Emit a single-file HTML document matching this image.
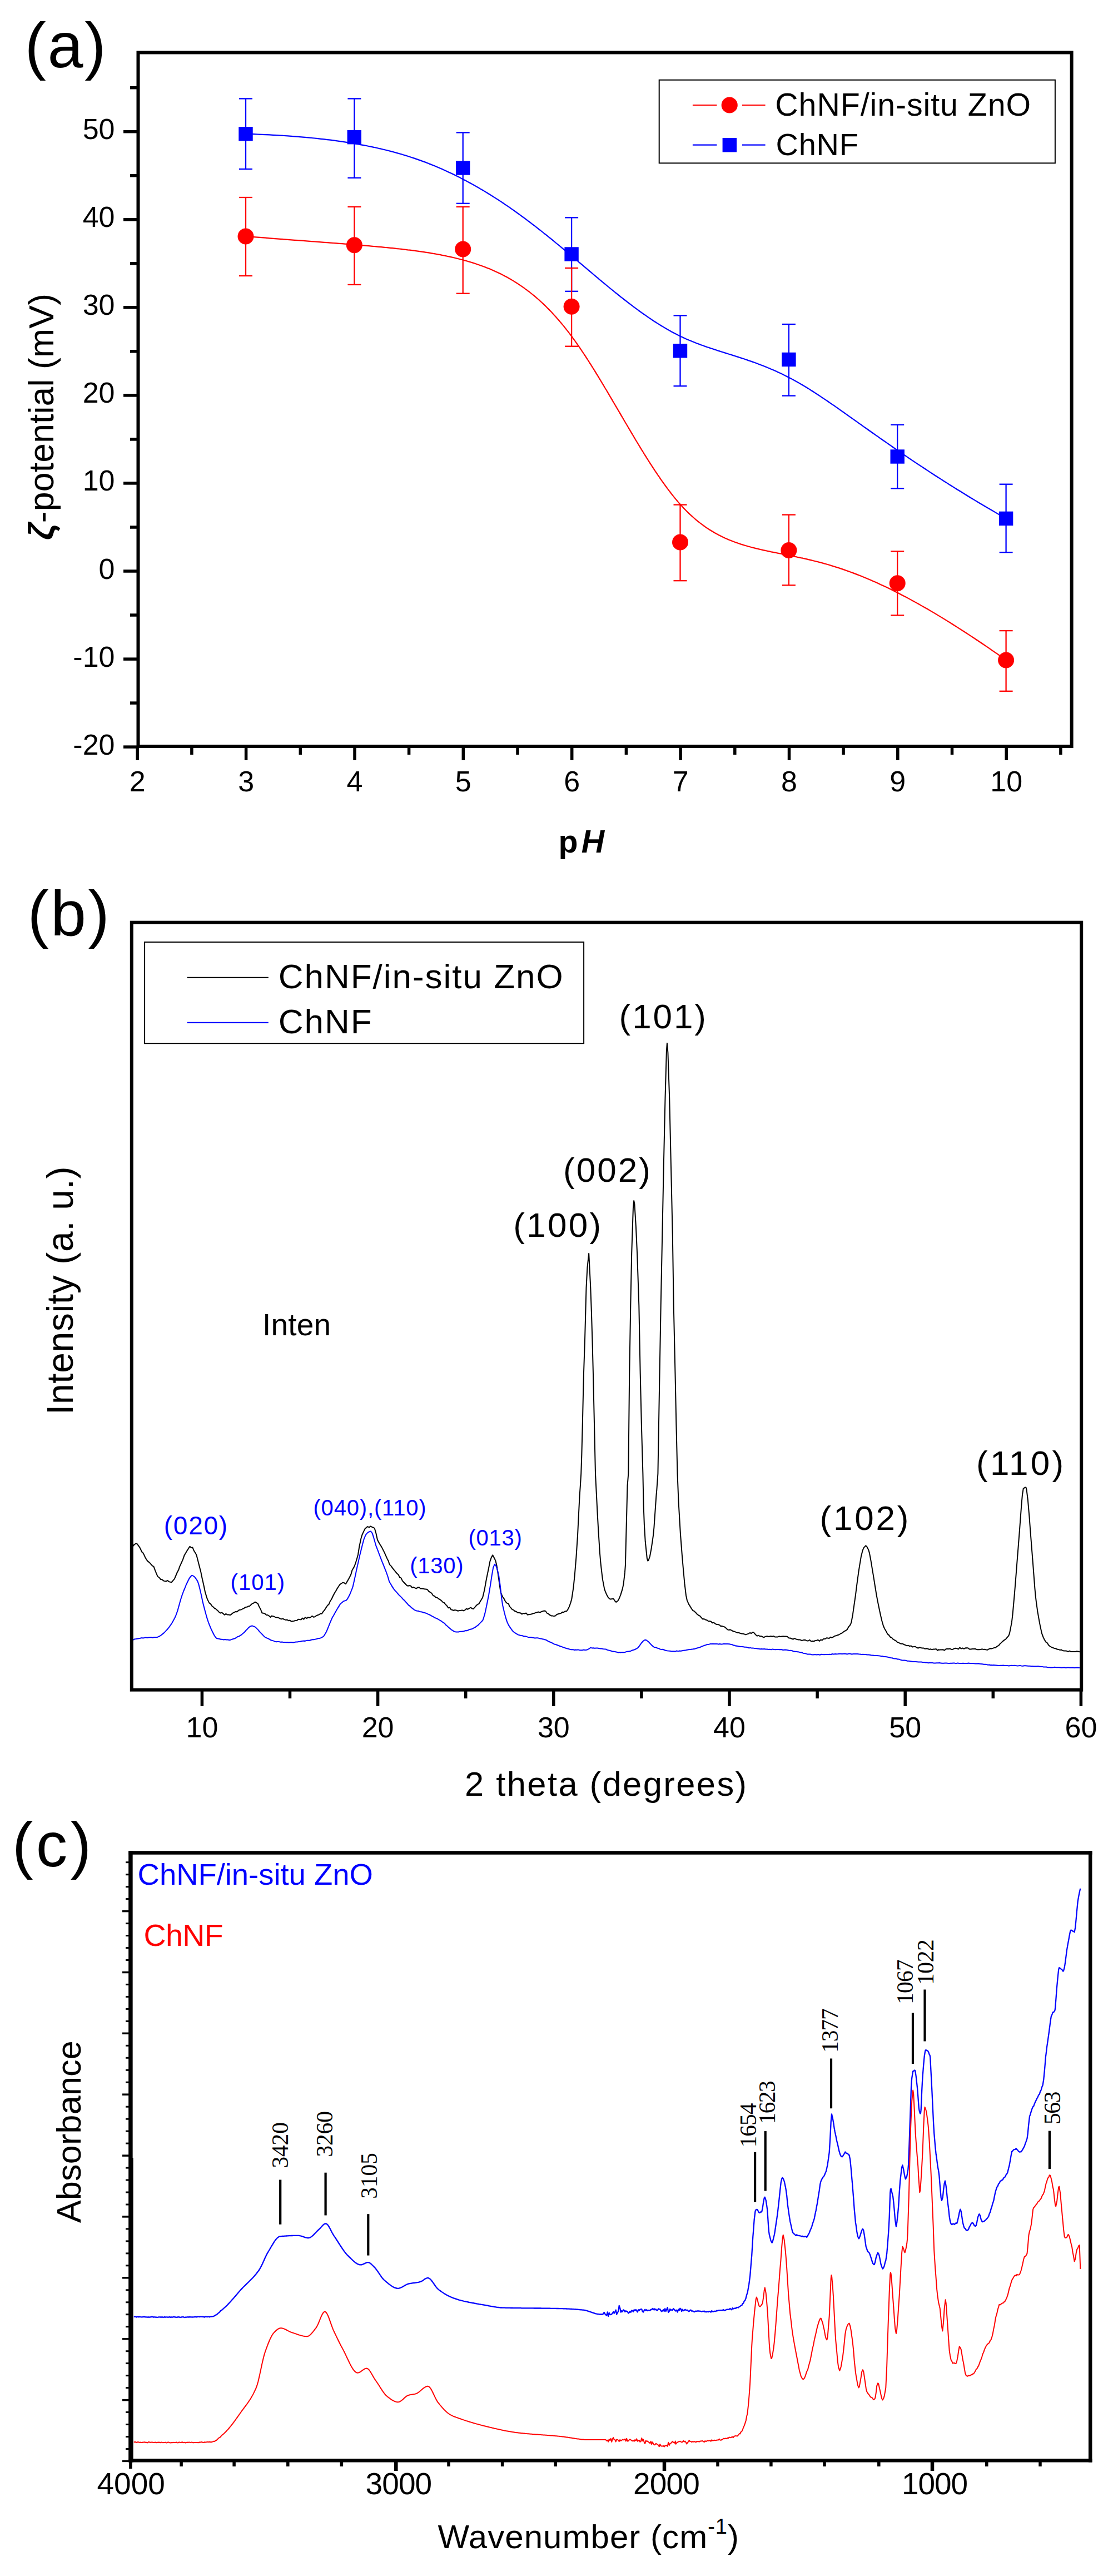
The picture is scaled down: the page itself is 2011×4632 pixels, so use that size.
<!DOCTYPE html>
<html><head><meta charset="utf-8"><title>Figure</title>
<style>html,body{margin:0;padding:0;background:#fff;}svg{display:block;}</style>
</head><body>
<svg width="2011" height="4632" viewBox="0 0 2011 4632">
<rect width="2011" height="4632" fill="#fff"/>
<rect x="248.5" y="94.5" width="1679.1" height="1247.5" fill="none" stroke="#000" stroke-width="6"/>
<line x1="222" y1="1343.1" x2="248.5" y2="1343.1" stroke="#000" stroke-width="5.5" stroke-linecap="butt"/>
<text x="206.5" y="1356.6" font-size="52" text-anchor="end" fill="#000" font-family="'Liberation Sans', Arial, sans-serif" font-weight="normal" font-style="normal" >-20</text>
<line x1="234" y1="1264.1" x2="248.5" y2="1264.1" stroke="#000" stroke-width="5.5" stroke-linecap="butt"/>
<line x1="222" y1="1185.1" x2="248.5" y2="1185.1" stroke="#000" stroke-width="5.5" stroke-linecap="butt"/>
<text x="206.5" y="1198.6" font-size="52" text-anchor="end" fill="#000" font-family="'Liberation Sans', Arial, sans-serif" font-weight="normal" font-style="normal" >-10</text>
<line x1="234" y1="1106" x2="248.5" y2="1106" stroke="#000" stroke-width="5.5" stroke-linecap="butt"/>
<line x1="222" y1="1027" x2="248.5" y2="1027" stroke="#000" stroke-width="5.5" stroke-linecap="butt"/>
<text x="206.5" y="1040.5" font-size="52" text-anchor="end" fill="#000" font-family="'Liberation Sans', Arial, sans-serif" font-weight="normal" font-style="normal" >0</text>
<line x1="234" y1="948" x2="248.5" y2="948" stroke="#000" stroke-width="5.5" stroke-linecap="butt"/>
<line x1="222" y1="868.9" x2="248.5" y2="868.9" stroke="#000" stroke-width="5.5" stroke-linecap="butt"/>
<text x="206.5" y="882.4" font-size="52" text-anchor="end" fill="#000" font-family="'Liberation Sans', Arial, sans-serif" font-weight="normal" font-style="normal" >10</text>
<line x1="234" y1="789.9" x2="248.5" y2="789.9" stroke="#000" stroke-width="5.5" stroke-linecap="butt"/>
<line x1="222" y1="710.9" x2="248.5" y2="710.9" stroke="#000" stroke-width="5.5" stroke-linecap="butt"/>
<text x="206.5" y="724.4" font-size="52" text-anchor="end" fill="#000" font-family="'Liberation Sans', Arial, sans-serif" font-weight="normal" font-style="normal" >20</text>
<line x1="234" y1="631.8" x2="248.5" y2="631.8" stroke="#000" stroke-width="5.5" stroke-linecap="butt"/>
<line x1="222" y1="552.8" x2="248.5" y2="552.8" stroke="#000" stroke-width="5.5" stroke-linecap="butt"/>
<text x="206.5" y="566.3" font-size="52" text-anchor="end" fill="#000" font-family="'Liberation Sans', Arial, sans-serif" font-weight="normal" font-style="normal" >30</text>
<line x1="234" y1="473.8" x2="248.5" y2="473.8" stroke="#000" stroke-width="5.5" stroke-linecap="butt"/>
<line x1="222" y1="394.8" x2="248.5" y2="394.8" stroke="#000" stroke-width="5.5" stroke-linecap="butt"/>
<text x="206.5" y="408.3" font-size="52" text-anchor="end" fill="#000" font-family="'Liberation Sans', Arial, sans-serif" font-weight="normal" font-style="normal" >40</text>
<line x1="234" y1="315.7" x2="248.5" y2="315.7" stroke="#000" stroke-width="5.5" stroke-linecap="butt"/>
<line x1="222" y1="236.7" x2="248.5" y2="236.7" stroke="#000" stroke-width="5.5" stroke-linecap="butt"/>
<text x="206.5" y="250.2" font-size="52" text-anchor="end" fill="#000" font-family="'Liberation Sans', Arial, sans-serif" font-weight="normal" font-style="normal" >50</text>
<line x1="234" y1="157.7" x2="248.5" y2="157.7" stroke="#000" stroke-width="5.5" stroke-linecap="butt"/>
<line x1="247.2" y1="1342" x2="247.2" y2="1367" stroke="#000" stroke-width="5.5" stroke-linecap="butt"/>
<text x="247.2" y="1423" font-size="52" text-anchor="middle" fill="#000" font-family="'Liberation Sans', Arial, sans-serif" font-weight="normal" font-style="normal" >2</text>
<line x1="344.9" y1="1342" x2="344.9" y2="1357" stroke="#000" stroke-width="5.5" stroke-linecap="butt"/>
<line x1="442.6" y1="1342" x2="442.6" y2="1367" stroke="#000" stroke-width="5.5" stroke-linecap="butt"/>
<text x="442.6" y="1423" font-size="52" text-anchor="middle" fill="#000" font-family="'Liberation Sans', Arial, sans-serif" font-weight="normal" font-style="normal" >3</text>
<line x1="540.3" y1="1342" x2="540.3" y2="1357" stroke="#000" stroke-width="5.5" stroke-linecap="butt"/>
<line x1="638" y1="1342" x2="638" y2="1367" stroke="#000" stroke-width="5.5" stroke-linecap="butt"/>
<text x="638" y="1423" font-size="52" text-anchor="middle" fill="#000" font-family="'Liberation Sans', Arial, sans-serif" font-weight="normal" font-style="normal" >4</text>
<line x1="735.6" y1="1342" x2="735.6" y2="1357" stroke="#000" stroke-width="5.5" stroke-linecap="butt"/>
<line x1="833.3" y1="1342" x2="833.3" y2="1367" stroke="#000" stroke-width="5.5" stroke-linecap="butt"/>
<text x="833.3" y="1423" font-size="52" text-anchor="middle" fill="#000" font-family="'Liberation Sans', Arial, sans-serif" font-weight="normal" font-style="normal" >5</text>
<line x1="931" y1="1342" x2="931" y2="1357" stroke="#000" stroke-width="5.5" stroke-linecap="butt"/>
<line x1="1028.7" y1="1342" x2="1028.7" y2="1367" stroke="#000" stroke-width="5.5" stroke-linecap="butt"/>
<text x="1028.7" y="1423" font-size="52" text-anchor="middle" fill="#000" font-family="'Liberation Sans', Arial, sans-serif" font-weight="normal" font-style="normal" >6</text>
<line x1="1126.4" y1="1342" x2="1126.4" y2="1357" stroke="#000" stroke-width="5.5" stroke-linecap="butt"/>
<line x1="1224.1" y1="1342" x2="1224.1" y2="1367" stroke="#000" stroke-width="5.5" stroke-linecap="butt"/>
<text x="1224.1" y="1423" font-size="52" text-anchor="middle" fill="#000" font-family="'Liberation Sans', Arial, sans-serif" font-weight="normal" font-style="normal" >7</text>
<line x1="1321.8" y1="1342" x2="1321.8" y2="1357" stroke="#000" stroke-width="5.5" stroke-linecap="butt"/>
<line x1="1419.5" y1="1342" x2="1419.5" y2="1367" stroke="#000" stroke-width="5.5" stroke-linecap="butt"/>
<text x="1419.5" y="1423" font-size="52" text-anchor="middle" fill="#000" font-family="'Liberation Sans', Arial, sans-serif" font-weight="normal" font-style="normal" >8</text>
<line x1="1517.1" y1="1342" x2="1517.1" y2="1357" stroke="#000" stroke-width="5.5" stroke-linecap="butt"/>
<line x1="1614.8" y1="1342" x2="1614.8" y2="1367" stroke="#000" stroke-width="5.5" stroke-linecap="butt"/>
<text x="1614.8" y="1423" font-size="52" text-anchor="middle" fill="#000" font-family="'Liberation Sans', Arial, sans-serif" font-weight="normal" font-style="normal" >9</text>
<line x1="1712.5" y1="1342" x2="1712.5" y2="1357" stroke="#000" stroke-width="5.5" stroke-linecap="butt"/>
<line x1="1810.2" y1="1342" x2="1810.2" y2="1367" stroke="#000" stroke-width="5.5" stroke-linecap="butt"/>
<text x="1810.2" y="1423" font-size="52" text-anchor="middle" fill="#000" font-family="'Liberation Sans', Arial, sans-serif" font-weight="normal" font-style="normal" >10</text>
<line x1="1907.9" y1="1342" x2="1907.9" y2="1357" stroke="#000" stroke-width="5.5" stroke-linecap="butt"/>
<polyline points="442,240.7 449.3,240.9 456.5,241.2 463.6,241.5 470.6,241.8 477.6,242.1 484.4,242.4 491.2,242.8 497.9,243.1 504.5,243.5 511,244 517.4,244.4 523.8,244.8 530,245.3 536.2,245.8 542.3,246.3 548.4,246.8 554.3,247.4 560.2,248 566,248.5 571.7,249.1 577.4,249.8 583,250.4 588.5,251.1 594,251.7 599.3,252.4 604.6,253.1 609.9,253.9 615.1,254.6 620.2,255.4 625.2,256.1 630.2,256.9 635.1,257.7 640,258.6 644.8,259.4 649.5,260.3 654.2,261.2 658.8,262 663.4,263 667.9,263.9 672.4,264.8 676.8,265.8 681.1,266.8 685.5,267.7 689.7,268.8 693.9,269.8 698.1,270.8 702.2,271.9 706.2,272.9 710.2,274 714.2,275.1 718.1,276.2 722,277.3 725.8,278.5 729.6,279.6 733.4,280.8 737.1,282 740.8,283.2 744.4,284.4 748,285.6 751.6,286.9 755.1,288.1 758.6,289.4 762.1,290.6 765.5,291.9 769,293.2 772.3,294.6 775.7,295.9 779,297.2 782.3,298.6 785.6,300 788.8,301.3 792,302.7 795.2,304.1 798.4,305.6 801.6,307 804.7,308.4 807.8,309.9 810.9,311.3 814,312.8 817.1,314.3 820.1,315.8 823.1,317.3 826.2,318.8 829.2,320.4 832.2,321.9 835.1,323.5 838.1,325 841,326.6 844,328.2 846.9,329.8 849.8,331.4 852.7,333 855.6,334.6 858.4,336.3 861.3,337.9 864.1,339.6 867,341.2 869.8,342.9 872.6,344.6 875.4,346.3 878.2,348 881,349.7 883.7,351.4 886.5,353.2 889.2,354.9 891.9,356.6 894.7,358.4 897.4,360.2 900.1,361.9 902.8,363.7 905.4,365.5 908.1,367.3 910.8,369.1 913.4,370.9 916.1,372.7 918.7,374.6 921.3,376.4 923.9,378.2 926.6,380.1 929.2,382 931.8,383.8 934.3,385.7 936.9,387.6 939.5,389.5 942.1,391.3 944.6,393.2 947.2,395.1 949.7,397.1 952.3,399 954.8,400.9 957.3,402.8 959.9,404.8 962.4,406.7 964.9,408.7 967.4,410.6 969.9,412.6 972.4,414.5 974.9,416.5 977.4,418.5 979.9,420.5 982.4,422.4 984.8,424.4 987.3,426.4 989.8,428.4 992.3,430.4 994.7,432.4 997.2,434.4 999.6,436.5 1002.1,438.5 1004.6,440.5 1007,442.5 1009.5,444.6 1011.9,446.6 1014.4,448.6 1016.8,450.7 1019.3,452.7 1021.7,454.8 1024.2,456.8 1026.6,458.9 1029.1,461 1031.5,463 1034,465.1 1036.4,467.2 1038.9,469.2 1041.3,471.3 1043.8,473.4 1046.2,475.4 1048.7,477.5 1051.1,479.6 1053.6,481.7 1056,483.7 1058.5,485.8 1060.9,487.9 1063.4,489.9 1065.8,492 1068.3,494.1 1070.7,496.1 1073.1,498.2 1075.6,500.2 1078,502.3 1080.5,504.3 1082.9,506.4 1085.4,508.4 1087.8,510.4 1090.3,512.5 1092.7,514.5 1095.2,516.5 1097.6,518.5 1100.1,520.5 1102.5,522.5 1105,524.5 1107.4,526.5 1109.9,528.4 1112.3,530.4 1114.8,532.3 1117.2,534.3 1119.7,536.2 1122.1,538.1 1124.6,540 1127,541.9 1129.5,543.8 1131.9,545.7 1134.4,547.6 1136.8,549.4 1139.3,551.3 1141.7,553.1 1144.1,554.9 1146.6,556.7 1149,558.5 1151.5,560.3 1153.9,562 1156.4,563.8 1158.8,565.5 1161.3,567.2 1163.7,568.9 1166.2,570.6 1168.6,572.3 1171.1,573.9 1173.5,575.6 1176,577.2 1178.4,578.8 1180.9,580.3 1183.3,581.9 1185.8,583.4 1188.2,585 1190.7,586.5 1193.1,587.9 1195.6,589.4 1198,590.8 1200.5,592.2 1202.9,593.6 1205.4,595 1207.8,596.4 1210.3,597.7 1212.7,599 1215.2,600.3 1217.6,601.5 1220,602.8 1222.5,604 1224.9,605.2 1227.4,606.3 1229.8,607.5 1232.3,608.6 1234.7,609.7 1237.2,610.7 1239.6,611.8 1242.1,612.8 1244.6,613.8 1247,614.8 1249.5,615.8 1251.9,616.8 1254.4,617.7 1256.9,618.6 1259.3,619.6 1261.8,620.5 1264.3,621.3 1266.7,622.2 1269.2,623.1 1271.7,624 1274.2,624.8 1276.7,625.6 1279.2,626.5 1281.7,627.3 1284.2,628.1 1286.7,628.9 1289.2,629.7 1291.7,630.6 1294.2,631.4 1296.8,632.2 1299.3,633 1301.9,633.8 1304.4,634.6 1307,635.4 1309.5,636.2 1312.1,637 1314.7,637.8 1317.2,638.6 1319.8,639.4 1322.4,640.2 1325,641.1 1327.6,641.9 1330.2,642.8 1332.9,643.6 1335.5,644.5 1338.2,645.3 1340.8,646.2 1343.5,647.1 1346.1,648.1 1348.8,649 1351.5,649.9 1354.2,650.9 1356.9,651.8 1359.6,652.8 1362.4,653.8 1365.1,654.9 1367.9,655.9 1370.6,657 1373.4,658.1 1376.2,659.2 1379,660.3 1381.8,661.5 1384.6,662.6 1387.4,663.9 1390.3,665.1 1393.1,666.3 1396,667.6 1398.9,668.9 1401.8,670.3 1404.7,671.6 1407.6,673 1410.5,674.5 1413.5,675.9 1416.4,677.4 1419.4,679 1422.4,680.5 1425.4,682.1 1428.4,683.8 1431.5,685.4 1434.5,687.2 1437.6,688.9 1440.7,690.7 1443.8,692.5 1446.9,694.4 1450,696.3 1453.2,698.2 1456.3,700.2 1459.5,702.2 1462.8,704.3 1466,706.4 1469.3,708.5 1472.6,710.7 1475.9,712.9 1479.2,715.1 1482.6,717.4 1486,719.7 1489.5,722 1492.9,724.4 1496.4,726.8 1500,729.2 1503.5,731.7 1507.2,734.2 1510.8,736.8 1514.5,739.4 1518.2,742 1521.9,744.6 1525.7,747.3 1529.6,750.1 1533.5,752.8 1537.4,755.6 1541.3,758.4 1545.4,761.3 1549.4,764.1 1553.5,767.1 1557.7,770 1561.9,773 1566.1,776 1570.4,779 1574.8,782.1 1579.2,785.2 1583.6,788.3 1588.2,791.5 1592.7,794.7 1597.4,797.9 1602,801.2 1606.8,804.5 1611.6,807.8 1616.4,811.1 1621.4,814.5 1626.3,817.9 1631.4,821.3 1636.5,824.8 1641.7,828.3 1646.9,831.8 1652.2,835.3 1657.6,838.9 1663.1,842.5 1668.6,846.1 1674.2,849.8 1679.8,853.5 1685.6,857.2 1691.4,860.9 1697.2,864.7 1703.2,868.4 1709.2,872.3 1715.4,876.1 1721.5,880 1727.8,883.8 1734.2,887.8 1740.6,891.7 1747.1,895.7 1753.7,899.6 1760.4,903.7 1767.2,907.7 1774,911.7 1780.9,915.8 1788,919.9 1795.1,924.1 1802.3,928.2 1809.6,932.4" fill="none" stroke="#0000FF" stroke-width="2.2" stroke-linejoin="round"/>
<polyline points="442,424.9 449.3,425.5 456.5,426.1 463.6,426.6 470.6,427.2 477.6,427.7 484.4,428.3 491.2,428.8 497.9,429.3 504.5,429.8 511,430.3 517.4,430.8 523.8,431.3 530,431.8 536.2,432.2 542.3,432.7 548.4,433.2 554.3,433.6 560.2,434.1 566,434.5 571.7,434.9 577.4,435.4 583,435.8 588.5,436.2 594,436.6 599.3,437 604.6,437.4 609.9,437.8 615.1,438.2 620.2,438.6 625.2,439 630.2,439.4 635.1,439.8 640,440.2 644.8,440.6 649.5,441 654.2,441.4 658.8,441.8 663.4,442.2 667.9,442.6 672.4,443 676.8,443.4 681.1,443.8 685.5,444.2 689.7,444.6 693.9,445 698.1,445.4 702.2,445.8 706.2,446.2 710.2,446.6 714.2,447.1 718.1,447.5 722,447.9 725.8,448.4 729.6,448.8 733.4,449.3 737.1,449.7 740.8,450.2 744.4,450.7 748,451.1 751.6,451.6 755.1,452.1 758.6,452.6 762.1,453.1 765.5,453.7 769,454.2 772.3,454.7 775.7,455.3 779,455.9 782.3,456.4 785.6,457 788.8,457.6 792,458.2 795.2,458.8 798.4,459.5 801.6,460.1 804.7,460.8 807.8,461.4 810.9,462.1 814,462.8 817.1,463.5 820.1,464.2 823.1,465 826.2,465.7 829.2,466.5 832.2,467.3 835.1,468.1 838.1,468.9 841,469.8 844,470.6 846.9,471.5 849.8,472.4 852.7,473.3 855.6,474.3 858.4,475.2 861.3,476.2 864.1,477.2 867,478.2 869.8,479.2 872.6,480.3 875.4,481.4 878.2,482.5 881,483.6 883.7,484.8 886.5,486 889.2,487.2 891.9,488.4 894.7,489.7 897.4,491 900.1,492.3 902.8,493.6 905.4,495 908.1,496.4 910.8,497.8 913.4,499.3 916.1,500.8 918.7,502.3 921.3,503.9 923.9,505.4 926.6,507.1 929.2,508.7 931.8,510.4 934.3,512.1 936.9,513.8 939.5,515.6 942.1,517.4 944.6,519.3 947.2,521.1 949.7,523.1 952.3,525 954.8,527 957.3,529 959.9,531.1 962.4,533.2 964.9,535.3 967.4,537.5 969.9,539.7 972.4,542 974.9,544.3 977.4,546.6 979.9,549 982.4,551.4 984.8,553.9 987.3,556.4 989.8,559 992.3,561.6 994.7,564.2 997.2,566.9 999.6,569.6 1002.1,572.4 1004.6,575.2 1007,578.1 1009.5,581 1011.9,583.9 1014.4,586.9 1016.8,590 1019.3,593.1 1021.7,596.2 1024.2,599.4 1026.6,602.7 1029.1,606 1031.5,609.3 1034,612.7 1036.4,616.1 1038.9,619.6 1041.3,623.2 1043.8,626.7 1046.2,630.3 1048.7,634 1051.1,637.7 1053.6,641.4 1056,645.2 1058.5,649 1060.9,652.8 1063.4,656.7 1065.8,660.6 1068.3,664.5 1070.7,668.4 1073.1,672.4 1075.6,676.4 1078,680.4 1080.5,684.5 1082.9,688.5 1085.4,692.6 1087.8,696.7 1090.3,700.8 1092.7,704.9 1095.2,709.1 1097.6,713.2 1100.1,717.4 1102.5,721.6 1105,725.7 1107.4,729.9 1109.9,734.1 1112.3,738.3 1114.8,742.4 1117.2,746.6 1119.7,750.8 1122.1,755 1124.6,759.2 1127,763.3 1129.5,767.5 1131.9,771.6 1134.4,775.8 1136.8,779.9 1139.3,784 1141.7,788.1 1144.1,792.2 1146.6,796.3 1149,800.3 1151.5,804.3 1153.9,808.4 1156.4,812.3 1158.8,816.3 1161.3,820.2 1163.7,824.1 1166.2,828 1168.6,831.8 1171.1,835.6 1173.5,839.4 1176,843.2 1178.4,846.9 1180.9,850.5 1183.3,854.2 1185.8,857.7 1188.2,861.3 1190.7,864.8 1193.1,868.2 1195.6,871.7 1198,875 1200.5,878.3 1202.9,881.6 1205.4,884.8 1207.8,888 1210.3,891.1 1212.7,894.1 1215.2,897.1 1217.6,900 1220,902.9 1222.5,905.7 1224.9,908.4 1227.4,911.1 1229.8,913.7 1232.3,916.3 1234.7,918.8 1237.2,921.2 1239.6,923.6 1242.1,925.9 1244.6,928.1 1247,930.3 1249.5,932.5 1251.9,934.6 1254.4,936.6 1256.9,938.6 1259.3,940.5 1261.8,942.4 1264.3,944.2 1266.7,946 1269.2,947.8 1271.7,949.5 1274.2,951.1 1276.7,952.7 1279.2,954.3 1281.7,955.8 1284.2,957.3 1286.7,958.7 1289.2,960.1 1291.7,961.4 1294.2,962.7 1296.8,964 1299.3,965.3 1301.9,966.5 1304.4,967.7 1307,968.8 1309.5,969.9 1312.1,971 1314.7,972 1317.2,973 1319.8,974 1322.4,975 1325,975.9 1327.6,976.8 1330.2,977.7 1332.9,978.6 1335.5,979.4 1338.2,980.2 1340.8,981 1343.5,981.8 1346.1,982.6 1348.8,983.3 1351.5,984 1354.2,984.7 1356.9,985.4 1359.6,986.1 1362.4,986.7 1365.1,987.4 1367.9,988 1370.6,988.7 1373.4,989.3 1376.2,989.9 1379,990.5 1381.8,991.1 1384.6,991.7 1387.4,992.3 1390.3,992.8 1393.1,993.4 1396,994 1398.9,994.6 1401.8,995.1 1404.7,995.7 1407.6,996.3 1410.5,996.9 1413.5,997.5 1416.4,998.1 1419.4,998.7 1422.4,999.3 1425.4,999.9 1428.4,1000.5 1431.5,1001.1 1434.5,1001.8 1437.6,1002.4 1440.7,1003.1 1443.8,1003.7 1446.9,1004.4 1450,1005.1 1453.2,1005.9 1456.3,1006.6 1459.5,1007.4 1462.8,1008.2 1466,1009 1469.3,1009.8 1472.6,1010.6 1475.9,1011.5 1479.2,1012.4 1482.6,1013.4 1486,1014.3 1489.5,1015.3 1492.9,1016.3 1496.4,1017.4 1500,1018.5 1503.5,1019.6 1507.2,1020.7 1510.8,1021.9 1514.5,1023.1 1518.2,1024.4 1521.9,1025.7 1525.7,1027.1 1529.6,1028.5 1533.5,1029.9 1537.4,1031.4 1541.3,1032.9 1545.4,1034.5 1549.4,1036.1 1553.5,1037.7 1557.7,1039.5 1561.9,1041.2 1566.1,1043 1570.4,1044.9 1574.8,1046.8 1579.2,1048.8 1583.6,1050.9 1588.2,1053 1592.7,1055.1 1597.4,1057.3 1602,1059.6 1606.8,1062 1611.6,1064.4 1616.4,1066.8 1621.4,1069.4 1626.3,1072 1631.4,1074.6 1636.5,1077.4 1641.7,1080.2 1646.9,1083.1 1652.2,1086 1657.6,1089.1 1663.1,1092.2 1668.6,1095.3 1674.2,1098.6 1679.8,1101.9 1685.6,1105.4 1691.4,1108.9 1697.2,1112.4 1703.2,1116.1 1709.2,1119.8 1715.4,1123.7 1721.5,1127.6 1727.8,1131.6 1734.2,1135.7 1740.6,1139.9 1747.1,1144.1 1753.7,1148.5 1760.4,1153 1767.2,1157.5 1774,1162.2 1780.9,1166.9 1788,1171.8 1795.1,1176.7 1802.3,1181.8 1809.6,1186.9" fill="none" stroke="#FF0000" stroke-width="2.2" stroke-linejoin="round"/>
<line x1="442" y1="177.4" x2="442" y2="304" stroke="#0000FF" stroke-width="2.3" stroke-linecap="butt"/>
<line x1="430" y1="177.4" x2="454" y2="177.4" stroke="#0000FF" stroke-width="2.3" stroke-linecap="butt"/>
<line x1="430" y1="304" x2="454" y2="304" stroke="#0000FF" stroke-width="2.3" stroke-linecap="butt"/>
<line x1="637.4" y1="177.4" x2="637.4" y2="319.8" stroke="#0000FF" stroke-width="2.3" stroke-linecap="butt"/>
<line x1="625.4" y1="177.4" x2="649.4" y2="177.4" stroke="#0000FF" stroke-width="2.3" stroke-linecap="butt"/>
<line x1="625.4" y1="319.8" x2="649.4" y2="319.8" stroke="#0000FF" stroke-width="2.3" stroke-linecap="butt"/>
<line x1="832.7" y1="238.4" x2="832.7" y2="365.8" stroke="#0000FF" stroke-width="2.3" stroke-linecap="butt"/>
<line x1="820.7" y1="238.4" x2="844.7" y2="238.4" stroke="#0000FF" stroke-width="2.3" stroke-linecap="butt"/>
<line x1="820.7" y1="365.8" x2="844.7" y2="365.8" stroke="#0000FF" stroke-width="2.3" stroke-linecap="butt"/>
<line x1="1028.1" y1="391.3" x2="1028.1" y2="523.8" stroke="#0000FF" stroke-width="2.3" stroke-linecap="butt"/>
<line x1="1016.1" y1="391.3" x2="1040.1" y2="391.3" stroke="#0000FF" stroke-width="2.3" stroke-linecap="butt"/>
<line x1="1016.1" y1="523.8" x2="1040.1" y2="523.8" stroke="#0000FF" stroke-width="2.3" stroke-linecap="butt"/>
<line x1="1223.5" y1="567.4" x2="1223.5" y2="694.2" stroke="#0000FF" stroke-width="2.3" stroke-linecap="butt"/>
<line x1="1211.5" y1="567.4" x2="1235.5" y2="567.4" stroke="#0000FF" stroke-width="2.3" stroke-linecap="butt"/>
<line x1="1211.5" y1="694.2" x2="1235.5" y2="694.2" stroke="#0000FF" stroke-width="2.3" stroke-linecap="butt"/>
<line x1="1418.9" y1="583" x2="1418.9" y2="711.6" stroke="#0000FF" stroke-width="2.3" stroke-linecap="butt"/>
<line x1="1406.9" y1="583" x2="1430.9" y2="583" stroke="#0000FF" stroke-width="2.3" stroke-linecap="butt"/>
<line x1="1406.9" y1="711.6" x2="1430.9" y2="711.6" stroke="#0000FF" stroke-width="2.3" stroke-linecap="butt"/>
<line x1="1614.2" y1="763.8" x2="1614.2" y2="878.3" stroke="#0000FF" stroke-width="2.3" stroke-linecap="butt"/>
<line x1="1602.2" y1="763.8" x2="1626.2" y2="763.8" stroke="#0000FF" stroke-width="2.3" stroke-linecap="butt"/>
<line x1="1602.2" y1="878.3" x2="1626.2" y2="878.3" stroke="#0000FF" stroke-width="2.3" stroke-linecap="butt"/>
<line x1="1809.6" y1="870.7" x2="1809.6" y2="993.2" stroke="#0000FF" stroke-width="2.3" stroke-linecap="butt"/>
<line x1="1797.6" y1="870.7" x2="1821.6" y2="870.7" stroke="#0000FF" stroke-width="2.3" stroke-linecap="butt"/>
<line x1="1797.6" y1="993.2" x2="1821.6" y2="993.2" stroke="#0000FF" stroke-width="2.3" stroke-linecap="butt"/>
<line x1="442" y1="355" x2="442" y2="496" stroke="#FF0000" stroke-width="2.3" stroke-linecap="butt"/>
<line x1="430" y1="355" x2="454" y2="355" stroke="#FF0000" stroke-width="2.3" stroke-linecap="butt"/>
<line x1="430" y1="496" x2="454" y2="496" stroke="#FF0000" stroke-width="2.3" stroke-linecap="butt"/>
<line x1="637.4" y1="371.9" x2="637.4" y2="511.9" stroke="#FF0000" stroke-width="2.3" stroke-linecap="butt"/>
<line x1="625.4" y1="371.9" x2="649.4" y2="371.9" stroke="#FF0000" stroke-width="2.3" stroke-linecap="butt"/>
<line x1="625.4" y1="511.9" x2="649.4" y2="511.9" stroke="#FF0000" stroke-width="2.3" stroke-linecap="butt"/>
<line x1="832.7" y1="371.9" x2="832.7" y2="527.7" stroke="#FF0000" stroke-width="2.3" stroke-linecap="butt"/>
<line x1="820.7" y1="371.9" x2="844.7" y2="371.9" stroke="#FF0000" stroke-width="2.3" stroke-linecap="butt"/>
<line x1="820.7" y1="527.7" x2="844.7" y2="527.7" stroke="#FF0000" stroke-width="2.3" stroke-linecap="butt"/>
<line x1="1028.1" y1="482" x2="1028.1" y2="622.7" stroke="#FF0000" stroke-width="2.3" stroke-linecap="butt"/>
<line x1="1016.1" y1="482" x2="1040.1" y2="482" stroke="#FF0000" stroke-width="2.3" stroke-linecap="butt"/>
<line x1="1016.1" y1="622.7" x2="1040.1" y2="622.7" stroke="#FF0000" stroke-width="2.3" stroke-linecap="butt"/>
<line x1="1223.5" y1="907.6" x2="1223.5" y2="1044.2" stroke="#FF0000" stroke-width="2.3" stroke-linecap="butt"/>
<line x1="1211.5" y1="907.6" x2="1235.5" y2="907.6" stroke="#FF0000" stroke-width="2.3" stroke-linecap="butt"/>
<line x1="1211.5" y1="1044.2" x2="1235.5" y2="1044.2" stroke="#FF0000" stroke-width="2.3" stroke-linecap="butt"/>
<line x1="1418.9" y1="925.6" x2="1418.9" y2="1052.3" stroke="#FF0000" stroke-width="2.3" stroke-linecap="butt"/>
<line x1="1406.9" y1="925.6" x2="1430.9" y2="925.6" stroke="#FF0000" stroke-width="2.3" stroke-linecap="butt"/>
<line x1="1406.9" y1="1052.3" x2="1430.9" y2="1052.3" stroke="#FF0000" stroke-width="2.3" stroke-linecap="butt"/>
<line x1="1614.2" y1="991.4" x2="1614.2" y2="1106.4" stroke="#FF0000" stroke-width="2.3" stroke-linecap="butt"/>
<line x1="1602.2" y1="991.4" x2="1626.2" y2="991.4" stroke="#FF0000" stroke-width="2.3" stroke-linecap="butt"/>
<line x1="1602.2" y1="1106.4" x2="1626.2" y2="1106.4" stroke="#FF0000" stroke-width="2.3" stroke-linecap="butt"/>
<line x1="1809.6" y1="1134.1" x2="1809.6" y2="1242.8" stroke="#FF0000" stroke-width="2.3" stroke-linecap="butt"/>
<line x1="1797.6" y1="1134.1" x2="1821.6" y2="1134.1" stroke="#FF0000" stroke-width="2.3" stroke-linecap="butt"/>
<line x1="1797.6" y1="1242.8" x2="1821.6" y2="1242.8" stroke="#FF0000" stroke-width="2.3" stroke-linecap="butt"/>
<rect x="429.3" y="228" width="25.4" height="25.4" fill="#0000FF"/>
<rect x="624.6" y="234" width="25.4" height="25.4" fill="#0000FF"/>
<rect x="820" y="289.3" width="25.4" height="25.4" fill="#0000FF"/>
<rect x="1015.4" y="444.3" width="25.4" height="25.4" fill="#0000FF"/>
<rect x="1210.8" y="618.1" width="25.4" height="25.4" fill="#0000FF"/>
<rect x="1406.2" y="633.8" width="25.4" height="25.4" fill="#0000FF"/>
<rect x="1601.5" y="808.3" width="25.4" height="25.4" fill="#0000FF"/>
<rect x="1796.9" y="919.7" width="25.4" height="25.4" fill="#0000FF"/>
<circle cx="442" cy="424.9" r="14.5" fill="#FF0000"/>
<circle cx="637.4" cy="440.7" r="14.5" fill="#FF0000"/>
<circle cx="832.7" cy="448" r="14.5" fill="#FF0000"/>
<circle cx="1028.1" cy="551.2" r="14.5" fill="#FF0000"/>
<circle cx="1223.5" cy="975" r="14.5" fill="#FF0000"/>
<circle cx="1418.9" cy="989.5" r="14.5" fill="#FF0000"/>
<circle cx="1614.2" cy="1048.7" r="14.5" fill="#FF0000"/>
<circle cx="1809.6" cy="1186.9" r="14.5" fill="#FF0000"/>
<rect x="1185.7" y="143.8" width="712.2" height="149.5" fill="none" stroke="#000" stroke-width="2"/>
<line x1="1245.9" y1="189" x2="1289.4" y2="189" stroke="#FF0000" stroke-width="2.2" stroke-linecap="butt"/>
<line x1="1335" y1="189" x2="1376.6" y2="189" stroke="#FF0000" stroke-width="2.2" stroke-linecap="butt"/>
<circle cx="1312.2" cy="189" r="14.6" fill="#FF0000"/>
<line x1="1245.9" y1="260.7" x2="1289.4" y2="260.7" stroke="#0000FF" stroke-width="2.2" stroke-linecap="butt"/>
<line x1="1335" y1="260.7" x2="1376.6" y2="260.7" stroke="#0000FF" stroke-width="2.2" stroke-linecap="butt"/>
<rect x="1299.6" y="248" width="25.5" height="25.5" fill="#0000FF"/>
<clipPath id="cb"><rect x="236.8" y="1658.7" width="1708.4" height="1379.8999999999999"/></clipPath>
<g clip-path="url(#cb)">
<polyline points="238.9,2780.5 241.4,2777.5 244.3,2775.6 246.4,2775.9 248.9,2779.1 251.4,2782.6 253.9,2787.8 255,2790.6 256.4,2791.1 258.9,2795.3 261.4,2800.8 263.9,2804.9 265.8,2807.4 268.9,2809.6 271.4,2812.5 273.9,2815.4 276.5,2816.8 278.9,2823.3 281.4,2829.6 283.7,2834.8 286.4,2836.7 288.9,2839.9 291.4,2840.2 294.4,2842.6 296.4,2843.1 298.9,2843.4 301.4,2841.9 303.9,2844.1 306.4,2844.8 308.7,2845 311.4,2841.9 313.9,2838.9 316.4,2833 318.9,2827 321.4,2822.5 323,2817.3 326.4,2810 328.9,2804.4 331.4,2797.1 333.8,2792.9 336.4,2788.6 338.9,2784.6 341.4,2780.9 342.7,2781.7 343.9,2783.1 346.4,2782.6 348.9,2788.5 351.4,2792.6 353.4,2796 356.4,2807.8 358.9,2817.6 361.4,2827.1 362.4,2832.5 363.9,2839.3 366.4,2850.2 368.9,2862.2 371.4,2870.9 373.1,2875.9 376.4,2882.4 378.9,2884.1 381.4,2888 383.9,2889.9 386.4,2892.6 387.4,2892.1 388.9,2893.8 391.4,2895.9 393.9,2898.7 396.4,2900.5 398.9,2899.7 401.4,2901.4 403.9,2903.7 406.4,2901.9 408.9,2903.5 411.4,2903.6 413.9,2904.1 416.4,2902.6 418.9,2900.4 421.4,2899.1 423.9,2897.9 426.8,2898.2 428.9,2895.6 431.4,2894.7 433.9,2894.4 436.4,2893 438.9,2891.9 441.4,2890.1 444.7,2889.6 446.4,2888.3 448.9,2888.1 451.4,2885.8 453.9,2883.4 456.4,2882.5 458.9,2880.6 460.8,2881.6 463.9,2883.7 466.4,2889.6 468.9,2894 471.4,2900.4 473.3,2900.6 476.4,2901.5 478.9,2903.9 481.4,2904 483.9,2905.5 486.4,2907.9 488.9,2905.6 491.4,2906.2 494.8,2907.7 496.4,2908.3 498.9,2908.4 501.4,2909.1 503.9,2910.6 506.4,2911.2 508.9,2910.6 511.4,2912.1 513.9,2912.9 516.4,2912.5 518.9,2914.2 521.4,2913.5 523.9,2915.5 527,2914.9 528.9,2914.7 531.4,2913.9 533.9,2913.9 536.4,2911.7 538.9,2911.9 541.4,2912.6 543.9,2909.6 546.4,2911.6 548.9,2908.5 552,2910 553.9,2908.1 556.4,2909 558.9,2907.9 561.4,2905.8 563.9,2907.8 566.4,2907.3 568.9,2905.2 571.4,2904.2 573.9,2903.4 577,2901.2 578.9,2901.8 581.4,2897.8 583.9,2895 586.4,2890.8 587.8,2889 588.9,2886.9 591.4,2885 593.9,2879.2 596.4,2875.5 598.9,2870 602.1,2864 603.9,2861.3 606.4,2856.6 608.9,2852.8 611.4,2849.1 614.5,2847 616.4,2845.8 618.9,2846.2 622,2848.1 623.9,2844.7 626.4,2840.4 628.9,2836 631.4,2830.7 633.4,2823.6 636.4,2818.6 638.9,2812.7 641.5,2804.5 643.9,2795.9 646.4,2780.5 649.5,2766 651.4,2759.7 653.9,2754.4 656.4,2749.1 657.6,2748.3 658.9,2746.5 661.4,2745 663.9,2746.4 666.2,2744.4 668.9,2745.7 671.4,2746.6 673.7,2748 676.4,2757.2 679,2769.1 681.4,2773.4 683.9,2777.7 686.4,2781.6 689.8,2788.4 691.4,2791.4 693.9,2797.2 696.4,2802.6 698.9,2807.5 700.2,2812 701.4,2813.9 703.9,2816.4 706.4,2820.1 708.9,2823.2 711.4,2826.1 714.5,2829.8 716.4,2831.1 718.9,2836.3 721.4,2837.4 723.9,2842.6 726.4,2845.2 728.8,2847.7 731.4,2850.5 733.9,2851.8 736.4,2851 738.9,2851.7 741.4,2855 743.1,2853.8 746.4,2855.3 748.9,2856.4 751.4,2854.4 753.9,2854.2 756.4,2856.6 758.9,2856.6 761.4,2856.7 764.6,2857.6 766.4,2857.5 768.9,2858.4 771.4,2861.6 773.9,2863.2 776.4,2864.8 778.9,2868.8 781.4,2870 783.9,2872.2 786.4,2872.7 788.9,2874.8 791.4,2876.2 793.9,2878.1 796.8,2881.1 798.9,2881.8 801.4,2885 803.9,2887.4 806.4,2891.3 808.9,2890.4 811.4,2894.4 813.9,2895 816.4,2896 818.2,2894.9 821.4,2895.7 823.9,2896.7 826.4,2895.9 828.9,2895.9 831.4,2895.3 833.9,2896.4 836.4,2895 838.9,2892.7 841.4,2893.7 843.9,2892.2 846.9,2890.5 848.9,2892.4 851.4,2893 853.9,2890.4 856.4,2887.3 858.9,2885 861.4,2883.9 863.9,2879.5 866.4,2875.4 868.3,2871.9 871.4,2859.1 873.9,2845 875.5,2836.6 878.9,2820.2 881.4,2807.4 883.9,2800.3 886.2,2796.2 888.9,2801.2 891.4,2806.4 893.4,2814.6 896.4,2834 898.9,2852.2 900.5,2862.7 903.9,2871.1 906.4,2874.3 908.9,2879.3 911.4,2882.3 914.8,2883.8 916.4,2888.4 918.9,2891.2 921.4,2894.1 923.9,2895.1 925.6,2896.8 928.9,2898 931.4,2900.1 933.9,2900.1 936.4,2900.4 938.9,2902.4 941.4,2901 943.9,2901.5 946.4,2900.5 948.9,2903.7 950.6,2903.2 953.9,2902.9 956.4,2902.3 958.9,2901.3 961.4,2900.8 963.9,2899.7 966.4,2899.1 968.9,2898.6 971.4,2899.3 973.9,2898 976.4,2897.1 979.2,2896.5 981.4,2897 983.9,2900.7 986.4,2901.9 988.9,2903.9 991.4,2905.4 994.3,2905.6 996.4,2906.1 998.9,2905.6 1001.5,2903 1003.9,2902.3 1006.4,2901.5 1008.9,2901.1 1011.4,2898.8 1013.9,2899.1 1016.4,2897.3 1019.4,2897 1021.4,2894 1023.9,2889.1 1026.4,2882.1 1028.3,2875.5 1031.4,2854.8 1033.7,2832.6 1036.4,2800.3 1039,2761 1041.4,2712.7 1042.6,2689.4 1043.9,2671 1045.2,2650 1046.4,2614.1 1047.7,2564 1048.9,2512.1 1049.9,2471 1052,2409 1054.5,2315.8 1056.4,2279.7 1059.2,2253.7 1062.3,2315.8 1063.9,2359.9 1065.4,2409 1067,2471 1069.1,2564 1071,2650 1074.8,2725.2 1076.4,2753.1 1078.9,2792.3 1080.2,2807.5 1081.4,2819 1083.9,2839.9 1087.3,2857.6 1088.9,2861.9 1091.4,2867.8 1093.9,2872.3 1096.4,2874.9 1098.1,2875.5 1101.4,2875 1103.4,2874.8 1106.4,2879.1 1108.1,2880.9 1111.4,2878.5 1113.9,2874 1116.4,2867.6 1119.5,2857.6 1121.4,2849.1 1123.9,2827.9 1124.9,2814.7 1126.7,2743.1 1128.5,2671.6 1130.3,2650 1131.2,2564 1132.2,2471 1134.3,2346.9 1136.2,2253.7 1138.9,2173 1140.2,2159 1141.4,2165 1143.9,2205.6 1146.1,2253.7 1149.3,2346.9 1151.7,2471 1153.9,2564 1156.4,2650 1157.6,2707.3 1158.9,2741.6 1160.7,2771.7 1163.9,2802.4 1165.3,2806.8 1166.4,2806 1168.9,2798.7 1171.4,2785.6 1173.9,2768.9 1175,2761 1176.4,2747 1178.9,2711 1180.4,2689.4 1181.4,2678.1 1183.4,2650 1186.5,2471 1188.7,2346.9 1191.2,2222.7 1193.7,2098.4 1196.5,1974.2 1198.9,1889 1199.9,1875.8 1201.4,1892.8 1204.2,1974.2 1207,2098.4 1209.8,2222.7 1211.7,2346.9 1214.5,2471 1216.4,2562.4 1218.5,2650 1220.5,2700 1223.9,2757.9 1226.9,2796.8 1228.9,2820 1231.4,2847.2 1233.9,2868.2 1235.8,2877.3 1238.9,2884.6 1241.4,2888.4 1243.9,2892.7 1246.4,2896.1 1248.3,2896.8 1251.4,2899.7 1253.9,2902.5 1256.4,2904.5 1258.9,2905.7 1261.4,2908.5 1263.9,2911.2 1266.4,2911 1269.8,2912.9 1271.4,2913 1273.9,2915 1276.4,2914.9 1278.9,2915.8 1281.4,2918.3 1283.9,2917.6 1286.4,2919.7 1288.9,2920.9 1291.4,2920.9 1294.8,2922.4 1296.4,2924.1 1298.9,2923.8 1301.4,2924.9 1303.9,2925.8 1306.4,2928.1 1308.9,2930.4 1311.4,2931.1 1312.7,2930.2 1313.9,2930.7 1316.4,2931.8 1318.9,2933.3 1321.4,2933.8 1323.9,2934.9 1326.4,2935.7 1328.9,2936 1331.4,2936.8 1333.9,2937.5 1336.4,2937.7 1338.9,2938.4 1341.4,2939.4 1343.9,2938.4 1346.4,2937.6 1348.9,2936 1351.4,2937 1353.9,2935 1355.7,2935.3 1358.9,2939.1 1361.4,2941.5 1362.8,2941.6 1363.9,2940.6 1366.4,2941.9 1368.9,2941.9 1371.4,2943 1373.9,2944.3 1376.4,2942.9 1378.9,2942.3 1380,2942 1381.4,2942.8 1383.9,2942.7 1386.4,2942 1388.9,2942.8 1391.4,2941.9 1393.9,2943.5 1396.4,2943.4 1398.9,2943.4 1401.4,2942.3 1403.9,2943 1406.4,2942.5 1408.6,2942.3 1411.4,2942.6 1413.9,2942.4 1416.4,2943 1418.9,2945.4 1421.4,2945.5 1423.9,2946.5 1426.5,2947.6 1428.9,2946 1431.4,2947.1 1433.9,2948.1 1436.4,2948.6 1438.9,2948.4 1441.4,2949.7 1443.9,2949.4 1446.4,2948.7 1448.9,2949.1 1451.4,2950.5 1453.9,2950.5 1456.4,2948.9 1458.9,2951.3 1462.3,2950.8 1463.9,2951.3 1466.4,2950 1468.9,2949.8 1471.4,2948.8 1473.9,2950.9 1476.4,2948.5 1478.9,2949.2 1481.4,2947.1 1483.9,2947.1 1487.3,2945 1488.9,2945.6 1491.4,2945.9 1493.9,2943.8 1496.4,2944.7 1498.9,2943.5 1501.4,2941.7 1503.9,2941.2 1506.4,2940.3 1508.9,2939.5 1511.4,2938 1512.4,2937.3 1513.9,2936.9 1516.4,2935 1518.9,2933.1 1521.4,2932 1523.9,2930.1 1526.4,2925.3 1528.9,2922.5 1530.3,2920 1531.4,2916.8 1533.9,2903.2 1536.4,2885.7 1537.4,2878.9 1538.9,2868.3 1541.4,2848.5 1544.6,2825.2 1546.4,2813.8 1548.9,2798.8 1551.7,2787.7 1553.9,2782.9 1557.1,2779.4 1558.9,2780.6 1561.4,2785.2 1562.5,2787.7 1563.9,2792.4 1566.4,2805.7 1569.6,2825.2 1571.4,2835.8 1573.9,2851.6 1576.4,2867 1578.6,2878.9 1581.4,2892.5 1583.9,2904.2 1586.4,2914.8 1588.9,2923.5 1591.1,2928.5 1593.9,2933.3 1596.4,2938.1 1598.9,2940.1 1601.8,2944.3 1603.9,2944.6 1606.4,2947.5 1608.9,2949 1611.4,2950.3 1613.9,2952.8 1616.4,2953.6 1619.7,2955.5 1621.4,2955.7 1623.9,2955.8 1626.4,2957.3 1628.9,2958.1 1631.4,2959.4 1633.9,2958.8 1636.4,2960 1638.9,2959.4 1641.4,2961.6 1643.9,2960.9 1646.4,2960.8 1648.9,2962.5 1651.4,2963.7 1653.9,2962.2 1656.4,2962.9 1659.1,2963.5 1661.4,2963.5 1663.9,2964.9 1666.4,2964.3 1668.9,2964.7 1671.4,2965.9 1673.9,2965.2 1676.4,2966.3 1678.9,2965.5 1681.4,2965.5 1683.9,2965.1 1686.4,2967.8 1687.7,2966.3 1688.9,2966.7 1691.4,2966.4 1693.9,2966.5 1696.4,2966.3 1698.9,2967.5 1701.4,2965.3 1703.9,2964.8 1706.4,2965 1708.9,2964.6 1711.4,2965.9 1713.9,2965.7 1716.4,2964.3 1718.9,2963.8 1721.4,2964.4 1723.9,2965.4 1726.4,2962.4 1728.9,2964.6 1731.4,2963.4 1733.9,2964.8 1736.4,2963.3 1737.8,2963.8 1738.9,2963 1741.4,2963.5 1743.9,2965.5 1746.4,2965.5 1748.9,2965 1751.4,2965.1 1753.9,2964.7 1756.4,2966 1758.1,2966.3 1761.4,2966.2 1763.9,2966.1 1766.4,2965.3 1768.9,2965.9 1771.4,2965.7 1773.9,2966.5 1776.4,2966.7 1779.1,2965 1781.4,2964.3 1783.9,2964.4 1786.4,2963.6 1788.9,2962.8 1790.7,2962.8 1793.9,2960.1 1796.4,2958.8 1798.9,2955.7 1800,2954.9 1801.4,2953.4 1803.9,2951.1 1806.4,2949.1 1808.9,2947.6 1811.4,2944.7 1813.9,2941.8 1815.1,2939.5 1816.4,2934.8 1819.8,2917.4 1821.4,2904.1 1824.4,2870.9 1826.4,2847.1 1829.1,2812.8 1831.4,2784 1833.7,2754.7 1837.2,2708.1 1838.9,2688.7 1840.7,2676.7 1843.9,2674.6 1845.3,2674.4 1846.4,2677.6 1848.8,2696.5 1851.4,2726.5 1853.5,2754.7 1856.4,2791.4 1858.1,2812.8 1861.4,2856.1 1862.8,2870.9 1863.9,2880.1 1866.4,2898.1 1869.8,2917.4 1871.4,2925.4 1873.9,2936.8 1876.7,2944.4 1878.9,2948.7 1881.4,2952.6 1883.9,2954.4 1886.4,2958.5 1888.9,2960.5 1891.4,2961.9 1893,2962.5 1896.4,2963.9 1898.9,2964.3 1901.4,2965.5 1903.9,2965.9 1906.4,2966.9 1909.3,2966.6 1911.4,2968 1913.9,2968.4 1916.4,2968.6 1918.9,2968.8 1921.4,2969.9 1923.9,2968.5 1926.7,2970.1 1928.9,2970 1931.4,2970 1933.9,2970.1 1936.4,2969.3 1938.9,2969.6 1941.9,2970.2" fill="none" stroke="#000" stroke-width="2.0" stroke-linejoin="round"/>
<polyline points="237.2,2949.5 239.7,2948.6 242.2,2947.3 244.7,2947 247.9,2946.5 249.7,2946.2 252.2,2945.7 254.7,2945.1 257.2,2945.5 259.7,2945.1 262.2,2944.4 264.7,2945 267.2,2944.4 269.7,2944.3 272.2,2944.3 274.7,2944.7 277.2,2944 279.7,2943.9 282.2,2944 283.7,2943.7 284.7,2943.1 287.2,2942 289.7,2940.3 292.2,2938.4 294.7,2936.4 297.2,2933.9 299.7,2931.1 301.6,2929.2 304.7,2925.1 307.2,2921.7 309.7,2917.8 312.2,2913.3 314.7,2908.5 315.9,2905.8 317.2,2902.5 319.7,2895.3 322.2,2886.3 324.7,2877.2 327.2,2869.4 330.2,2861 332.2,2856.5 334.7,2850 337.2,2844.7 339.7,2839.6 342.2,2835.6 344.7,2833 346.3,2833 349.7,2835.2 352.2,2838.3 355.2,2842.9 357.2,2848.2 359.7,2858.1 362.2,2868.8 364.7,2880.8 366,2886.1 367.2,2890.6 369.7,2900.1 372.2,2908.9 374.7,2916.7 376.7,2921.9 379.7,2929 382.2,2934.2 384.7,2939.3 387.2,2943.4 389.7,2946.1 391,2946.2 392.2,2946.5 394.7,2947 397.2,2947.8 399.7,2947.8 402.2,2948.5 404.7,2948.1 407.2,2948.5 409.7,2948.6 412.5,2948.9 414.7,2948.8 417.2,2947.7 419.7,2947 422.2,2946.3 424.7,2944.8 427.2,2943.2 429.7,2942.4 432.2,2940.8 433.9,2939.8 437.2,2937.1 439.7,2935 442.2,2931.9 444.7,2929.5 447.2,2926.6 449.7,2924.7 452.2,2923.8 453.6,2923.4 454.7,2923.9 457.2,2924.7 459.7,2926.1 462.2,2928.6 464.7,2931.1 467.2,2934.3 469.7,2936.8 472.2,2939.4 474.7,2942.1 476.9,2943.9 479.7,2945.4 482.2,2946.3 484.7,2947.6 487.2,2949.2 489.7,2949.9 492.2,2950.6 494.7,2951.6 497.2,2952.2 498.3,2952 499.7,2951.9 502.2,2952.1 504.7,2952.8 507.2,2952.6 509.7,2952.9 512.2,2953.1 514.7,2953.3 517.2,2953.1 519.7,2953.4 522.2,2953.1 523.4,2953.2 524.7,2953 527.2,2953.5 529.7,2953 532.2,2952.6 534.7,2952.4 537.2,2952.1 539.7,2951.9 542.2,2951 544.7,2950.7 547.2,2950.5 548.4,2951 549.7,2950.4 552.2,2949.8 554.7,2949.7 557.2,2949.7 559.7,2948.7 562.2,2948.3 564.7,2948.2 567.2,2947.6 569.7,2947 572.2,2946.1 574.7,2946 577.2,2945.1 580.6,2943.4 582.2,2942.3 584.7,2938.2 587.2,2933.9 589.7,2927.8 592.2,2921.7 594.7,2915.5 597.2,2909.8 598.5,2907.1 599.7,2905.5 602.2,2900.8 604.7,2896.5 607.2,2892.1 609.7,2888.1 612.2,2884 614.7,2882 617.9,2879.2 619.7,2878.6 622.7,2877.7 624.7,2875.4 627.2,2871 629.7,2866 632.2,2859.7 633.7,2855.9 634.7,2852.9 637.2,2842.1 639.7,2830.6 641.5,2821.8 644.7,2807.9 647.2,2796.6 649.5,2787.2 652.2,2776.6 654.7,2767.3 657.6,2760.3 659.7,2757.5 662.2,2755.3 664.7,2754 667,2753.5 669.7,2757.1 672.2,2764.9 674.7,2773.7 676.4,2779.7 679.7,2788.2 682.2,2794.9 684.4,2800.6 687.2,2807.9 689.7,2814 692.2,2820.4 694.7,2826.7 697.8,2835.5 700.2,2843.9 702.2,2847.2 704.7,2851.6 707.2,2855.6 709.7,2859.1 712.2,2861.7 714.7,2864.7 717.2,2867.6 719.7,2870 722.2,2872.4 725.2,2875.9 727.2,2877.5 729.7,2880.4 732.2,2883 734.7,2886.1 737.2,2887.8 739.7,2890.4 742.2,2892.4 744.7,2894.3 746.7,2895.4 749.7,2896.7 752.2,2896.7 754.7,2898 757.2,2898.3 759.7,2898.8 762.2,2899.8 764.6,2900.3 767.2,2901 769.7,2902.4 772.2,2903.3 774.7,2904.6 777.2,2906.1 779.7,2907.4 782.2,2909 784.7,2909.9 787.2,2911 789.7,2912.6 792.2,2914 793.2,2914.5 794.7,2915.8 797.2,2917.4 799.7,2919.1 802.2,2922 804.7,2924.1 807.2,2926.5 809.7,2928.6 812.2,2930.7 814.7,2932.2 817.2,2933.8 819.7,2934.4 821.8,2934.6 824.7,2934.5 827.2,2933.8 829.7,2933.8 832.2,2933.4 834.7,2933 837.2,2932.1 839.7,2932.2 842.2,2931.2 843.3,2930.6 844.7,2930.1 847.2,2929.6 849.7,2928.7 852.2,2927.3 854.7,2926.1 857.2,2924.2 859.7,2922.5 862.2,2919.9 864.7,2917.4 867.2,2914.7 868.3,2913.6 869.7,2910 872.2,2901.6 874.7,2890 877.2,2877.7 879.1,2868 882.2,2849.7 884.7,2832.8 887.2,2818.7 889.8,2812.7 892.2,2815.7 894.7,2823 897,2832.2 899.7,2851 902.2,2873.4 904.1,2886.2 907.2,2899.4 909.7,2908.9 912.2,2916.6 914.8,2922.1 917.2,2925.9 919.7,2929.3 922.2,2932.8 924.7,2935 927.2,2936.7 929.2,2937.9 932.2,2939.6 934.7,2940.2 937.2,2941.1 939.7,2941.3 942.2,2942.2 944.7,2942.3 947.2,2942.9 950.6,2944.1 952.2,2944 954.7,2944 957.2,2944.5 959.7,2944.9 962.2,2945.4 964.7,2945.2 967.2,2945.2 969.7,2945.9 972.2,2946.4 974.7,2946.8 975.7,2947.3 977.2,2947.4 979.7,2948.3 982.2,2948.8 984.7,2950.4 987.2,2951.8 989.7,2952.7 992.2,2953.8 994.7,2955 997.2,2956.6 999.7,2956.9 1001.5,2957.8 1004.7,2959 1007.2,2960 1009.7,2960.7 1012.2,2961.8 1014.7,2962.5 1017.2,2963.5 1019.7,2964.2 1022.2,2964.7 1024.7,2965.6 1027.2,2966.3 1029.7,2966.2 1032.2,2966.6 1033.7,2966.9 1034.7,2966.4 1037.2,2966.7 1039.7,2966.4 1042.2,2967 1044.7,2967.3 1047.2,2967.2 1049.7,2966.6 1052.2,2966.9 1055.1,2966.7 1057.2,2966 1059.7,2964.6 1062.3,2962.8 1064.7,2963.4 1067.2,2963.2 1069.7,2963.7 1072.2,2963.6 1074.7,2963.5 1077.2,2964 1080.2,2964.4 1082.2,2964.4 1084.7,2964.9 1087.2,2965.2 1089.7,2965.4 1092.2,2966.8 1094.7,2967.4 1097.2,2968 1099.7,2968.7 1102.2,2969.6 1104.7,2969.8 1107.2,2970.3 1109.7,2970.8 1112.2,2971.5 1114.7,2971 1116,2971.7 1117.2,2971.2 1119.7,2971 1122.2,2971.3 1124.7,2970.7 1127.2,2969.9 1129.7,2969.6 1132.2,2969.3 1134.7,2968.7 1137.2,2967.5 1139.7,2966.8 1142.2,2966 1144.6,2964.7 1147.2,2963.1 1149.7,2960.1 1152.2,2956.6 1154.7,2953.2 1157.2,2950.5 1159.7,2949 1160.7,2948.7 1162.2,2949 1164.7,2950.8 1167.2,2952.8 1169.7,2955.6 1172.2,2958.3 1174.7,2960.4 1176.8,2962 1179.7,2962.2 1182.2,2963.5 1184.7,2964.1 1187.2,2965.4 1189.7,2966.1 1192.2,2965.8 1194.7,2966.7 1197.2,2967.7 1199.7,2968.2 1202.2,2968.6 1204.7,2968.7 1207.2,2969.1 1209.7,2969.3 1212.6,2969.2 1214.7,2969.4 1217.2,2968.5 1219.7,2969.1 1222.2,2968.5 1224.7,2968.8 1227.2,2968.2 1229.7,2967.7 1232.2,2967.6 1234.7,2966.9 1237.2,2966.6 1239.7,2966 1242.2,2965.9 1244.7,2965.6 1247.2,2965.3 1248.3,2964.9 1249.7,2964.9 1252.2,2964 1254.7,2963.3 1257.2,2962.6 1259.7,2961.8 1262.2,2960.5 1264.7,2959.6 1267.2,2958.7 1269.7,2957.9 1272.2,2957 1274.7,2956.9 1277.2,2956.1 1280.5,2956.1 1282.2,2955.8 1284.7,2956.1 1287.2,2956.1 1289.7,2955.9 1292.2,2956.5 1294.7,2956.1 1297.2,2956.4 1299.7,2956.2 1302.2,2955.8 1304.7,2955.9 1307.2,2956.1 1309.2,2956 1312.2,2956.3 1314.7,2956.9 1317.2,2957.3 1319.7,2958.6 1322.2,2958.8 1323.5,2959.7 1324.7,2959.6 1327.2,2960 1329.7,2960.5 1332.2,2961 1334.7,2960.9 1337.2,2961.2 1339.7,2961.7 1342.2,2961.8 1344.7,2962.4 1347.2,2963.3 1349.7,2962.9 1352.2,2963.6 1354.7,2963.4 1357.2,2964.1 1359.7,2964.1 1362.2,2964.4 1364.7,2964.8 1367.2,2965.3 1369.7,2965.1 1372.2,2965.2 1374.7,2965.1 1377.2,2965.6 1380,2965.5 1382.2,2965.9 1384.7,2965.8 1387.2,2966.3 1389.7,2965.4 1392.2,2965.9 1394.7,2966.3 1397.2,2966 1399.7,2966 1402.2,2966.2 1404.7,2966 1407.2,2966.5 1408.6,2967.1 1409.7,2966.8 1412.2,2966.5 1414.7,2966.8 1417.2,2967.2 1419.7,2967.9 1422.2,2967.8 1424.7,2968.3 1427.2,2969.2 1429.7,2969.6 1432.2,2969.8 1434.7,2970.2 1437.2,2970.6 1439.7,2971.3 1442.2,2971.5 1444.7,2972.7 1447.2,2972.9 1449.7,2973.6 1452.2,2974.4 1454.7,2974.6 1457.2,2974.4 1459.7,2975.2 1462.2,2975.5 1464.7,2975.2 1467.2,2975.2 1469.4,2975.5 1472.2,2975.1 1474.7,2975.8 1477.2,2974.8 1479.7,2975.1 1482.2,2975.2 1484.7,2975.1 1487.2,2975.1 1489.7,2975 1492.2,2974.7 1494.7,2975 1497.2,2974 1499.7,2974.4 1502.2,2974.1 1504.7,2974.2 1507.2,2974.1 1509.7,2973.8 1512.2,2973.7 1514.7,2974 1517.2,2973.8 1519.7,2973.6 1523.1,2974.2 1524.7,2974.3 1527.2,2973.4 1529.7,2973.8 1532.2,2974.5 1534.7,2974.1 1537.2,2974.1 1539.7,2974.1 1542.2,2974.1 1544.7,2974.3 1547.2,2974.4 1549.7,2974.9 1552.2,2974.8 1554.7,2974.9 1557.2,2974.9 1559.7,2975.4 1562.2,2975.4 1564.7,2975.8 1567.2,2976.3 1569.7,2976.4 1572.2,2976.7 1574.7,2976.9 1577.2,2977 1580.4,2977.3 1582.2,2977.4 1584.7,2978 1587.2,2977.9 1589.7,2978.9 1592.2,2979 1594.7,2979.3 1597.2,2979.8 1599.7,2980.3 1602.2,2981 1604.7,2981.3 1607.2,2982.3 1609.7,2982.4 1612.2,2982.6 1614.7,2983.5 1617.2,2983.6 1619.7,2984.6 1622.2,2985.3 1624.7,2985.6 1627.2,2985.5 1630.4,2986 1632.2,2986.8 1634.7,2986.7 1637.2,2986.9 1639.7,2987.4 1642.2,2988 1644.7,2988 1647.2,2987.9 1649.7,2988.2 1652.2,2988.5 1654.7,2988.4 1657.2,2988.5 1659.7,2989 1662.2,2989 1664.7,2989.4 1667.2,2989.6 1669.7,2990.3 1672.2,2989.7 1674.7,2990 1677.2,2990.1 1679.7,2990.4 1682.2,2990.6 1684.7,2990.3 1687.7,2990.3 1689.7,2990.1 1692.2,2990.4 1694.7,2990.8 1697.2,2990.7 1699.7,2990.5 1702.2,2990.6 1704.7,2990.8 1707.2,2990.9 1709.7,2990.7 1712.2,2990.8 1714.7,2990.4 1717.2,2990.6 1719.7,2991.3 1722.2,2990.4 1724.7,2990.8 1727.2,2991 1729.7,2990.9 1732.2,2990.8 1734.7,2991 1737.2,2991 1739.7,2991 1742.2,2990.6 1744.7,2991.1 1747.2,2990.9 1749.7,2991 1752.2,2991.3 1754.7,2991.4 1757.2,2991.5 1760.5,2991.3 1762.2,2991.7 1764.7,2992 1767.2,2992.3 1769.7,2992.7 1772.2,2992.7 1774.7,2993.1 1777.2,2993.8 1779.7,2993.5 1782.2,2994.2 1783.7,2994.1 1784.7,2994.2 1787.2,2993.9 1789.7,2994.2 1792.2,2994.5 1794.7,2994.8 1797.2,2994.9 1799.7,2994.7 1802.2,2994.7 1804.7,2994.6 1807.2,2995 1809.7,2994.9 1812.2,2995.1 1814.7,2995.5 1817.2,2995.1 1819.7,2994.7 1822.2,2994.9 1824.7,2994.8 1827.2,2994.9 1829.7,2995.6 1832.2,2995.3 1834.7,2994.9 1837.2,2995.5 1839.7,2995.7 1842.2,2995.3 1844.7,2995.3 1847.2,2995.4 1849.7,2995.7 1852.2,2995.8 1854.7,2996 1857.2,2996.1 1859.7,2996.2 1862.8,2996.3 1864.7,2996.3 1867.2,2995.9 1869.7,2996.5 1872.2,2996.8 1874.7,2996.9 1877.2,2997.5 1879.7,2997.4 1882.2,2997.5 1884.7,2998.3 1887.2,2998.2 1888.4,2998.2 1889.7,2998.4 1892.2,2998.5 1894.7,2998.3 1897.2,2997.7 1899.7,2998.2 1902.2,2998.3 1904.7,2998.2 1907.2,2998.5 1909.7,2998.8 1912.2,2998.5 1914.7,2998.3 1917.2,2999.1 1919.7,2998.6 1922.2,2998.4 1924.7,2998.8 1927.2,2998.8 1929.7,2998.6 1932.2,2999 1934.7,2998.7 1937.2,2998.6 1939.7,2998.8 1941.9,2999" fill="none" stroke="#0000FF" stroke-width="2.0" stroke-linejoin="round"/>
</g>
<rect x="236.8" y="1658.7" width="1708.4" height="1379.8999999999999" fill="none" stroke="#000" stroke-width="6"/>
<line x1="363.4" y1="3038.6" x2="363.4" y2="3068" stroke="#000" stroke-width="5.5" stroke-linecap="butt"/>
<text x="363.4" y="3124.3" font-size="52" text-anchor="middle" fill="#000" font-family="'Liberation Sans', Arial, sans-serif" font-weight="normal" font-style="normal" >10</text>
<line x1="521.5" y1="3038.6" x2="521.5" y2="3054" stroke="#000" stroke-width="5.5" stroke-linecap="butt"/>
<line x1="679.6" y1="3038.6" x2="679.6" y2="3068" stroke="#000" stroke-width="5.5" stroke-linecap="butt"/>
<text x="679.6" y="3124.3" font-size="52" text-anchor="middle" fill="#000" font-family="'Liberation Sans', Arial, sans-serif" font-weight="normal" font-style="normal" >20</text>
<line x1="837.7" y1="3038.6" x2="837.7" y2="3054" stroke="#000" stroke-width="5.5" stroke-linecap="butt"/>
<line x1="995.8" y1="3038.6" x2="995.8" y2="3068" stroke="#000" stroke-width="5.5" stroke-linecap="butt"/>
<text x="995.8" y="3124.3" font-size="52" text-anchor="middle" fill="#000" font-family="'Liberation Sans', Arial, sans-serif" font-weight="normal" font-style="normal" >30</text>
<line x1="1153.9" y1="3038.6" x2="1153.9" y2="3054" stroke="#000" stroke-width="5.5" stroke-linecap="butt"/>
<line x1="1312" y1="3038.6" x2="1312" y2="3068" stroke="#000" stroke-width="5.5" stroke-linecap="butt"/>
<text x="1312" y="3124.3" font-size="52" text-anchor="middle" fill="#000" font-family="'Liberation Sans', Arial, sans-serif" font-weight="normal" font-style="normal" >40</text>
<line x1="1470.1" y1="3038.6" x2="1470.1" y2="3054" stroke="#000" stroke-width="5.5" stroke-linecap="butt"/>
<line x1="1628.2" y1="3038.6" x2="1628.2" y2="3068" stroke="#000" stroke-width="5.5" stroke-linecap="butt"/>
<text x="1628.2" y="3124.3" font-size="52" text-anchor="middle" fill="#000" font-family="'Liberation Sans', Arial, sans-serif" font-weight="normal" font-style="normal" >50</text>
<line x1="1786.3" y1="3038.6" x2="1786.3" y2="3054" stroke="#000" stroke-width="5.5" stroke-linecap="butt"/>
<line x1="1944.4" y1="3038.6" x2="1944.4" y2="3068" stroke="#000" stroke-width="5.5" stroke-linecap="butt"/>
<text x="1944.4" y="3124.3" font-size="52" text-anchor="middle" fill="#000" font-family="'Liberation Sans', Arial, sans-serif" font-weight="normal" font-style="normal" >60</text>
<rect x="260.1" y="1694" width="790" height="182.2" fill="none" stroke="#000" stroke-width="2"/>
<line x1="336.6" y1="1757.8" x2="482.8" y2="1757.8" stroke="#000" stroke-width="2.2" stroke-linecap="butt"/>
<line x1="336.6" y1="1838.8" x2="482.8" y2="1838.8" stroke="#0000FF" stroke-width="2.2" stroke-linecap="butt"/>
<clipPath id="cc"><rect x="235.5" y="3331.6" width="1725.7" height="1092.7000000000003"/></clipPath>
<g clip-path="url(#cc)">
<polyline points="240.7,4165.6 242.2,4165.9 243.7,4165.8 245.2,4166.6 246.7,4165.7 248.2,4166.3 249.7,4166 251.2,4166 252.7,4166.2 254.2,4166.3 255.7,4166.4 257.2,4166.2 258.7,4166 260.2,4166 261.7,4166.3 263.2,4166.3 264.7,4166.6 266.2,4166.4 267.7,4166.5 269.2,4166.7 270.7,4166.3 272.2,4166 273.7,4166 275.2,4166 276.7,4166.8 278.2,4166.2 279.7,4166.7 281.2,4166.6 282.7,4166.9 284.2,4166.7 285.7,4166.4 287.2,4166.4 288.7,4166.5 290.2,4166.5 291.7,4166.4 293.2,4166.5 294.7,4166.9 296.2,4166.1 297.7,4166.6 299.2,4166.3 300,4166.5 300.7,4166.7 302.2,4166.5 303.7,4166.7 305.2,4166.1 306.7,4166.8 308.2,4166.3 309.7,4166.6 311.2,4166.5 312.7,4165.8 314.2,4166.3 315.7,4166.5 317.2,4166.9 318.7,4166.5 320.2,4166.5 321.7,4166.1 323.2,4166.8 324.7,4166.9 326.2,4166.5 327.7,4166.4 329.2,4166 330.7,4166.6 332.2,4167.1 333.7,4166.6 335.2,4166.7 336.7,4166.5 338.2,4166.1 339.7,4166.7 341.2,4166 342.7,4166.3 344.2,4166.4 345.7,4166.5 347.2,4166.4 348.7,4166.4 350.2,4166.1 351.7,4165.9 353.2,4166.3 354.7,4166 356.2,4165.9 357.7,4165.9 359.2,4166 360.7,4165.7 362.2,4165.8 363.7,4165.7 365.2,4166.1 366.7,4166.2 368.2,4166.5 369.7,4165.6 371.2,4165.8 372.7,4166.2 374.2,4165.9 375.7,4165.8 377.2,4166.3 378.7,4165.7 380.3,4165.5 381.7,4165.3 383.2,4165.4 384.7,4164.8 386.2,4163.7 387.7,4162.9 389.2,4162.2 390.7,4161.1 392.2,4159.6 393.7,4158.6 395.2,4157.3 396.7,4155.3 398.2,4154.3 399.7,4153.2 401.2,4151.8 401.8,4151.3 402.7,4150.5 404.2,4149.2 405.7,4147.9 407.2,4146.4 408.7,4145 410.2,4143.4 411.7,4141.8 413.2,4140.2 414.7,4138.5 416.2,4136.9 417.7,4135.1 419.2,4133.4 420.7,4131.7 422.2,4129.9 423.7,4128.2 425.2,4126.4 426.7,4124.7 428.2,4122.9 429.7,4121.2 431.2,4119.5 432.7,4117.8 434,4116.4 435.7,4114.6 437.2,4113 438.7,4111.5 440.2,4110 441.7,4108.6 443.2,4107.1 444.7,4105.7 446.2,4104.2 447.7,4102.8 449.2,4101.3 450.7,4099.8 452.2,4098.3 453.7,4096.8 455.2,4095.2 456.7,4093.5 458.2,4091.8 459.7,4090.1 461.2,4088.2 462.7,4086.3 464.2,4084.3 466.2,4081.5 467.2,4080 468.7,4077.3 470.2,4074.4 471.7,4071.3 473.2,4068 474.7,4064.7 476.2,4061.3 477.7,4058.1 479.2,4054.9 480.7,4052 482.3,4049.3 483.7,4047 485.2,4044.5 486.7,4041.9 488.2,4039.3 489.7,4036.8 491.2,4034.3 492.7,4031.9 494.2,4029.6 495.7,4027.6 497.2,4025.8 498.7,4024.2 500.2,4022.9 501.7,4022 503.2,4021.5 503.8,4021.4 504.7,4021.3 506.2,4021.2 507.7,4021 509.2,4020.9 510.7,4020.8 512.2,4020.7 513.7,4020.6 515.2,4020.5 516.7,4020.4 518.2,4020.3 519.7,4020.2 521.2,4020.1 522.7,4020.1 524.2,4020 525.7,4020 527.2,4019.9 528.7,4019.9 530.2,4019.8 531.7,4019.8 533.2,4019.8 534.7,4019.8 536,4019.8 537.7,4019.9 539.2,4020.1 540.7,4020.5 542.2,4020.9 543.7,4021.4 545.2,4021.9 546.7,4022.4 548.2,4022.9 549.7,4023.3 551.2,4023.7 552.7,4024 554.7,4024.1 555.7,4024 557.2,4023.6 558.7,4022.9 560.2,4021.9 561.7,4020.7 563.2,4019.4 564.7,4017.9 566.2,4016.3 567.7,4014.7 569.2,4013.1 570.7,4011.6 572.2,4010.1 573.5,4009 575.2,4007.4 576.7,4005.8 578.2,4004 579.7,4002.4 581.2,4000.8 582.7,3999.6 584.2,3998.7 585.9,3998.3 587.2,3998.6 588.7,3999.8 590.2,4001.6 591.7,4003.9 593.2,4006.5 594.7,4009.4 596.2,4012.4 597.7,4015.3 599.2,4017.9 600.4,4019.8 602.2,4022.4 603.7,4024.7 605.2,4027 606.7,4029.3 608.2,4031.7 609.7,4034 611.2,4036.4 612.7,4038.7 614.2,4041 615.7,4043.2 617.2,4045.4 618.7,4047.5 620.2,4049.5 621.7,4051.4 623.2,4053.2 624.7,4054.9 626.2,4056.4 627.2,4057.4 629.2,4059.3 630.7,4060.7 632.2,4062.2 633.7,4063.6 635.2,4065 636.7,4066.3 638.2,4067.6 639.7,4068.7 641.2,4069.8 642.7,4070.7 644.2,4071.4 645.7,4071.9 647.2,4072.3 648.7,4072.4 650.2,4072.3 651.7,4071.8 653.2,4071.3 654.7,4070.6 656.2,4069.9 657.7,4069.2 659.2,4068.6 660.7,4068.2 662.1,4068.1 663.7,4068.4 665.2,4069.1 666.7,4070.2 668.2,4071.6 669.7,4073 671.2,4074.5 672.8,4076.1 674.2,4077.5 675.7,4079.3 677.2,4081.2 678.7,4083.3 680.2,4085.4 681.7,4087.7 683.2,4089.9 684.7,4092.1 686.2,4094.2 687.7,4096.2 689.2,4097.9 690.7,4099.5 691.6,4100.3 692.2,4100.8 693.7,4102.1 695.2,4103.3 696.7,4104.6 698.2,4105.8 699.7,4107.1 701.2,4108.2 702.7,4109.4 704.2,4110.4 705.7,4111.4 707.2,4112.2 708.7,4113 710.2,4113.7 711.7,4114.2 713.2,4114.5 714.7,4114.8 715.8,4114.8 717.7,4114.6 719.2,4114.2 720.7,4113.7 722.2,4113 723.7,4112.2 725.2,4111.3 726.7,4110.5 728.2,4109.6 729.7,4108.7 731.2,4108 732.7,4107.3 734.6,4106.7 735.7,4106.4 737.2,4106.1 738.7,4105.8 740.2,4105.6 741.7,4105.4 743.2,4105.2 744.7,4105 746.2,4104.8 747.7,4104.6 749.2,4104.4 750.7,4104.1 752.2,4103.9 753.7,4103.6 755.2,4103.2 756,4103 756.7,4102.8 758.2,4102.1 759.7,4101.2 761.2,4100.2 762.7,4099.1 764.2,4098 765.7,4097.1 767.2,4096.5 768.7,4096.1 769.5,4096 770.2,4096.1 771.7,4096.6 773.2,4097.6 774.7,4099 776.2,4100.7 777.7,4102.7 779.2,4104.8 780.7,4107 782.2,4109.2 783.7,4111.4 785.2,4113.3 786.7,4115 788.2,4116.4 789.7,4117.6 791.2,4118.7 792.7,4119.8 794.2,4120.9 795.7,4121.9 797.2,4122.9 798.7,4123.9 800.2,4124.8 801.7,4125.7 803.2,4126.6 804.7,4127.4 806.2,4128.1 807.7,4128.9 809.7,4129.8 810.7,4130.2 812.2,4130.9 813.7,4131.5 815.2,4132.1 816.7,4132.6 818.2,4133.2 819.7,4133.7 821.2,4134.2 822.7,4134.7 824.2,4135.1 825.7,4135.6 827.2,4136 828,4136.2 828.7,4136.4 830.2,4136.8 831.7,4137.1 833.2,4137.5 834.7,4137.9 836.2,4138.2 837.7,4138.5 839.2,4138.9 840.7,4139.2 842.2,4139.5 843.7,4139.8 845.2,4140.1 846.7,4140.4 848.2,4140.7 849.7,4141 851.2,4141.2 852.7,4141.5 854.2,4141.8 855.7,4142 857.2,4142.3 858.7,4142.6 860.2,4142.8 861.7,4143.1 863.2,4143.3 864.7,4143.6 866.2,4143.9 867.7,4144.1 869.2,4144.4 870,4144.5 870.7,4144.6 872.2,4144.9 873.7,4145.2 875.2,4145.4 876.7,4145.7 878.2,4146 879.7,4146.3 881.2,4146.6 882.7,4146.9 884.2,4147.2 885.7,4147.4 887.2,4147.7 888.7,4148 890.2,4148.2 891.7,4148.4 893.2,4148.7 894.7,4148.9 896.2,4149 897.7,4149.2 899.2,4149.3 900.7,4149.5 902.2,4149.5 903.7,4149.6 905.2,4149.6 906.7,4149.7 908.2,4149.7 909.7,4149.8 911.2,4149.8 912.7,4149.8 914.2,4149.9 915.7,4149.9 917.2,4149.9 918.7,4150 920.2,4150 921.7,4150 923.2,4150.1 924.7,4150.1 926.2,4150.1 927.7,4150.1 929.2,4150.2 930.7,4150.2 932.2,4150.2 933.7,4150.2 935.2,4150.2 936.7,4150.2 938.2,4150.3 939.7,4150.3 941.2,4150.3 942.7,4150.3 944.2,4150.3 945.7,4150.3 947.2,4150.3 948.7,4150.4 950.2,4150.4 951.7,4150.4 953.2,4150.4 954.7,4150.4 956.2,4150.4 957.7,4150.4 959.2,4150.4 960.7,4150.5 962.2,4150.5 963.7,4150.5 965.2,4150.5 966.7,4150.5 968.2,4150.5 969.7,4150.5 971.2,4150.5 972.7,4150.5 974.2,4150.6 975.7,4150.6 977.2,4150.6 978.7,4150.6 980.2,4150.6 981.7,4150.6 983.2,4150.7 984.7,4150.7 986.2,4150.7 987.7,4150.7 989.2,4150.7 990.7,4150.8 992.2,4150.8 993.7,4150.8 995.2,4150.8 996.7,4150.9 998.2,4150.9 999.7,4150.9 1001.2,4151 1002.7,4151 1004.2,4151 1005.7,4151.1 1007.5,4151.1 1008.7,4151.1 1010.2,4151.2 1011.7,4151.2 1013.2,4151.3 1014.7,4151.3 1016.2,4151.4 1017.7,4151.4 1019.2,4151.5 1020.7,4151.6 1022.2,4151.7 1023.7,4151.7 1025.2,4151.8 1026.7,4151.9 1028.2,4152 1029.7,4152.1 1031.2,4152.2 1032.7,4152.3 1034.2,4152.4 1035.7,4152.5 1037.2,4152.6 1038.7,4152.7 1040.2,4152.9 1041.7,4153 1043.2,4153.1 1044.7,4153.3 1046.2,4153.4 1047.7,4153.6 1049,4153.7 1050.7,4153.9 1052.2,4154.2 1053.7,4154.5 1055.2,4154.9 1056.7,4155.3 1058.2,4155.8 1059.7,4156.3 1061.2,4156.8 1062.7,4157.3 1064.2,4157.9 1065.7,4158.4 1067.2,4158.9 1068.7,4159.4 1070.2,4159.9 1071.7,4160.3 1073.2,4160.6 1074.7,4161 1076.2,4161.2 1077.7,4161.4 1079.2,4161.5 1080.1,4161.5 1080.7,4161.5 1082.2,4161.5 1083.7,4161.5 1085.2,4160.5 1086.7,4157.9 1088.2,4160.8 1089.7,4162.4 1091.2,4163.6 1092.7,4157.4 1094.2,4164.9 1095.7,4158.7 1097.2,4161.8 1098.7,4162 1100.2,4161.3 1101.7,4159.6 1103.2,4157.1 1104.7,4159.6 1106.2,4157 1107.7,4153.6 1109.2,4161.6 1111.2,4157.4 1112.2,4156.7 1113.7,4146 1114.5,4148.3 1115.2,4150.1 1116.7,4157.6 1117.5,4157 1118.2,4155.1 1119.7,4156.7 1121.2,4153.4 1122.7,4154.2 1124.2,4157 1125.7,4155.1 1127.2,4156.4 1128.7,4156.3 1130.2,4159.5 1131.7,4158.3 1133.2,4156 1134.7,4157.9 1136.2,4154.5 1137.7,4155.1 1139.2,4156.9 1140.7,4153.3 1142.2,4154.7 1143.7,4152.9 1145.2,4155 1146.7,4157.3 1148.2,4153.3 1149.7,4154.7 1151.2,4152.8 1152.7,4152.3 1154.2,4152.1 1155.7,4156.3 1157.2,4157.6 1158.7,4154.6 1160.2,4152.6 1161.7,4154.8 1163.1,4153.2 1164.7,4155 1166.2,4154.2 1167.7,4154.1 1169.2,4154.7 1170.7,4152.8 1172.2,4153.1 1173.7,4150.9 1175.2,4153 1176.7,4151.4 1178.2,4153.5 1179.7,4152.2 1181.2,4153.9 1182.7,4154.4 1184.2,4151.4 1185.7,4152.4 1187.2,4152.2 1188.7,4154.9 1190.2,4156.4 1191.7,4155.1 1193.2,4153.1 1194.7,4156 1196.2,4151.3 1197.7,4156.1 1199.2,4152.7 1200.7,4149.3 1202.2,4157.9 1203.7,4156.2 1205.2,4152 1206.7,4154 1208.2,4153.4 1209.7,4153.9 1211.2,4151.3 1212.7,4152.6 1214.2,4154.4 1214.9,4154.1 1215.7,4155.6 1217.2,4153.8 1218.7,4157.5 1220.2,4152.6 1221.7,4154.2 1223.2,4150.8 1224.7,4151.9 1226.2,4156.1 1227.7,4152.6 1229.2,4155 1230.7,4154.2 1232.2,4152.7 1233.7,4153.9 1235.2,4153.8 1236.7,4153.9 1238.2,4156 1239.7,4156 1241.2,4154.1 1242.7,4153.7 1244.2,4155.7 1245.7,4155.3 1247.2,4156.1 1248.7,4157.2 1250.2,4156.2 1251.7,4155.7 1253.2,4155.8 1254.7,4155.4 1256.2,4155.5 1257.7,4155.5 1259.2,4155.9 1260.7,4155.9 1262.2,4156.7 1263.7,4156 1265.2,4156.2 1266.8,4155.6 1268.2,4157.3 1269.7,4156.6 1271.2,4157.3 1272.7,4156.7 1274.2,4157.1 1275.7,4156 1277.2,4156.5 1278.7,4157.6 1280.2,4155.1 1281.7,4156.5 1283.2,4156.7 1284.7,4155.8 1286.2,4155.9 1287.7,4156.1 1289.2,4154.7 1290.7,4155.2 1292.2,4154.3 1293.7,4154.3 1295.2,4154.1 1296.7,4154.2 1298.2,4154.2 1299.7,4154.2 1301.2,4152.9 1302.7,4154.8 1304.2,4154.1 1305.7,4153.6 1307.2,4152.7 1308.7,4152.6 1310.2,4152.8 1311.7,4152.5 1313.2,4151 1314.7,4152.2 1316.2,4153.3 1317.7,4150.1 1318.7,4151.7 1320.7,4151 1322.2,4150.4 1323.7,4150.9 1325.2,4148.9 1326.7,4149.2 1328.2,4149.5 1330,4147.4 1331.2,4147.2 1332.7,4145.7 1334.2,4145.8 1335.7,4142.3 1337.2,4141.5 1338.7,4137.7 1340.2,4136.4 1341.4,4133.4 1343.2,4126.4 1344.7,4121.8 1346.2,4113.1 1347.2,4107.5 1349.2,4092.2 1350.7,4073.7 1351.5,4064 1352.2,4056 1354.3,4022 1355.2,4011 1356.7,3990.8 1358.6,3975.5 1359.7,3973.6 1361.5,3972.7 1362.7,3973.8 1364.2,3976.8 1365.8,3979 1367.2,3978.5 1368.7,3977.1 1370.1,3977.5 1371.7,3970.2 1373.2,3960 1374.7,3952.3 1375.8,3950.8 1377.7,3956.5 1379.2,3966.1 1380.1,3972.7 1380.7,3980.1 1382.2,4003.5 1383,4012.4 1383.7,4017.7 1385.2,4023.8 1386.7,4029.5 1388.7,4032.8 1389.7,4031 1391.2,4025 1393,4017.7 1394.2,4010.3 1395.7,4000 1397.2,3990.2 1398.7,3979.3 1400.2,3966.3 1401.7,3952.7 1403.2,3938.2 1404.7,3924.6 1406.2,3917.9 1407.3,3915.8 1409.2,3918.3 1410.7,3922.3 1412.2,3929.4 1413,3933.2 1413.7,3937.1 1415.2,3948.2 1416.7,3963.7 1418.7,3978.1 1419.7,3984.6 1421.2,3994.3 1422.7,4000.8 1424.2,4007.8 1425.7,4014 1427.3,4015.9 1428.7,4017.1 1430.2,4018.5 1431.7,4019.9 1433.2,4018.2 1434.7,4019.7 1435.9,4019.8 1437.7,4020 1439.2,4020.4 1440.7,4020.6 1442.2,4021.6 1443.7,4020.9 1445.2,4021.8 1446.7,4022.1 1448.2,4021.3 1450.2,4022 1451.2,4022.8 1452.7,4020.5 1454.2,4017.6 1455.7,4015 1457.2,4010.8 1458.7,4007.6 1460.2,4003.8 1461.7,3998.4 1463.2,3994.1 1464.7,3989.3 1466.2,3981.5 1467.7,3974.8 1469.2,3966.3 1470.2,3961.2 1472.2,3948.2 1473.7,3939 1475.2,3927.7 1476,3924.2 1476.7,3922 1478.2,3918.5 1479.7,3916.3 1481.2,3913.5 1482.7,3912.4 1484.2,3908.2 1486,3904.1 1487.2,3898.8 1488.7,3891.7 1490.2,3880.9 1491.7,3870.1 1493.2,3845.8 1494.7,3815.1 1496,3801.4 1497.7,3808.4 1499.2,3817 1500.7,3827.3 1501.7,3832.8 1503.7,3842 1505.2,3849.7 1506.7,3855.6 1508.2,3862.5 1509.7,3869.2 1511.2,3873.9 1512.7,3876.9 1514.6,3878.4 1515.7,3877.4 1517.2,3875 1518.7,3872.7 1520.3,3869.5 1521.7,3871.5 1523.2,3871.8 1524.7,3872.1 1526.2,3874.6 1527.5,3874.9 1529.2,3883.3 1530.7,3898.3 1532.2,3916.1 1533.2,3927.2 1535.2,3951.9 1536.7,3972.7 1538.2,3988.6 1538.9,3996.4 1539.7,4001 1541.2,4012.2 1542.7,4020.9 1544.7,4025.4 1545.7,4024.2 1547.2,4020.2 1548.7,4015.1 1550.2,4010.4 1551.8,4008 1553.2,4010.1 1554.7,4018.7 1556.2,4029.3 1557.7,4039.9 1559,4043.4 1560.7,4048.7 1562.2,4049.5 1563.7,4051.2 1564.7,4053.6 1566.7,4059.7 1568.2,4064.4 1569.7,4069.6 1571.8,4072.1 1572.7,4071.9 1574.2,4067.3 1575.7,4059.8 1577.2,4054.9 1579,4050.6 1580.2,4052.1 1581.7,4056.5 1583.2,4064.1 1584.7,4072.1 1586.2,4076.2 1587.6,4079.6 1589.2,4077.9 1590.7,4074.3 1592.2,4067.6 1593.3,4064.7 1595.2,4052 1596.7,4034.2 1598.2,4014.1 1599,4000.2 1599.7,3986.5 1601.2,3943.2 1601.9,3936.6 1602.7,3935.4 1604.2,3941.7 1606.2,3950.1 1607.2,3958.3 1608.7,3974.5 1610.2,3992.1 1611.9,4003.5 1613.2,3996.8 1614.7,3983.5 1616.2,3967.3 1617.7,3942.4 1619.1,3922.5 1620.7,3908.6 1622.2,3896.9 1623.4,3893.3 1625.2,3900.7 1626.7,3909.4 1628.2,3916.4 1629.1,3918.2 1629.7,3916.4 1631.2,3913.2 1632.7,3905.1 1633.4,3900.7 1634.2,3890.9 1636.2,3835.4 1637.2,3806.1 1639.1,3751.1 1640.2,3736.7 1642.2,3724.3 1643.2,3724.2 1645.2,3722.5 1646.2,3723.4 1647.7,3733.3 1649.8,3752 1650.7,3762 1652.8,3790.1 1653.7,3795.9 1655.2,3800.6 1655.9,3800.4 1656.7,3793.5 1658.2,3758.6 1658.9,3745.2 1659.7,3732.8 1661.2,3713.3 1661.9,3705.9 1662.7,3697.3 1664.2,3687.9 1665,3686.3 1665.7,3686.1 1667.2,3687.2 1668.7,3687.7 1670.2,3689.8 1671.7,3694.5 1672.6,3695.6 1673.2,3699.3 1674.7,3727.9 1675.6,3744.5 1676.2,3756.2 1677.7,3787.7 1679.2,3819 1680.2,3835.4 1682.2,3859.3 1683.7,3873.8 1684.7,3880.2 1686.7,3895.8 1688.2,3903.5 1689.3,3911.5 1691.2,3934.8 1692.7,3952 1693.9,3956.8 1695.7,3951.5 1697.2,3936.8 1698.7,3925.8 1700,3921.5 1701.7,3931.1 1703.2,3945.3 1704.5,3958.6 1706.2,3971.7 1707.7,3986 1709.2,3994.7 1710.6,3998.6 1712.2,4000.2 1713.7,3999 1715.2,3998.7 1716.7,4000 1718.2,3998.4 1719.7,3997.2 1721.2,3997.9 1722.7,3992.6 1724.2,3986.1 1725.7,3978 1727.3,3972.7 1728.7,3976.2 1730.2,3985.9 1731.7,3996 1733.4,4002.8 1734.7,4006.4 1736.2,4007 1737.7,4009.9 1739.5,4010.8 1740.7,4010.3 1742.2,4008.4 1743.7,4004.2 1745.2,4002.1 1746.7,3998.8 1748.6,3996.9 1749.7,3997 1751.2,3999 1752.7,4002.2 1754.7,4002.8 1755.7,4001.9 1757.2,3995.9 1758.7,3987.7 1760.8,3981.8 1761.7,3981.3 1763.2,3984.6 1764.7,3991.1 1766.2,3994.1 1766.9,3995.2 1767.7,3994.3 1769.2,3994.7 1770.7,3993.7 1772.2,3992.5 1773.7,3991 1775.2,3989.4 1776,3988.5 1776.7,3987.6 1778.2,3985.3 1779.7,3980.5 1781.2,3977.6 1782.7,3971.6 1784.2,3967.4 1785.1,3963.8 1785.7,3961.8 1787.2,3957.7 1788.7,3949.8 1790.2,3942.8 1791.7,3937.3 1793.2,3932.7 1794.2,3932 1796.2,3927 1797.7,3925.3 1799.2,3922.1 1800.7,3921.4 1802.2,3920.1 1803.7,3919.5 1805.2,3916.3 1806.7,3915.7 1808.2,3913.7 1809.7,3910.6 1811.2,3908.8 1812.5,3906 1814.2,3898.7 1815.7,3893.1 1817.2,3884.4 1818.7,3875.6 1820.2,3868.6 1821.6,3867.6 1823.2,3865.5 1824.7,3865.1 1826.2,3864.8 1827.7,3863.2 1829.2,3865.1 1830.7,3866.4 1832.2,3868.6 1833.8,3869.6 1835.2,3869.4 1836.7,3869.3 1838.2,3867.1 1839.7,3864.7 1841.2,3862 1842.7,3859.2 1844.2,3854.6 1845.7,3850.6 1847.5,3845.3 1848.7,3836.8 1850.2,3820.9 1852,3805.4 1853.2,3802.5 1854.7,3797.1 1856.2,3792.5 1857.7,3788.7 1859.2,3787.3 1860.7,3783.1 1862.2,3779.8 1864.2,3775.6 1865.2,3773.3 1866.7,3770.9 1868.2,3767.1 1869.7,3765.8 1871.2,3760.6 1872.7,3758.2 1874.2,3752.6 1875.7,3749.2 1876.4,3744.8 1877.2,3739.8 1878.7,3724.6 1880.2,3707.1 1880.9,3698.5 1881.7,3692.3 1883.2,3679.8 1884.7,3669.9 1886.2,3659.2 1887,3653.5 1887.7,3648 1889.2,3636.4 1890.7,3626.3 1891.6,3623.7 1892.2,3623 1893.7,3618.5 1895.2,3618.4 1896.7,3616.1 1897.6,3614.5 1898.2,3609.8 1899.7,3590.6 1900.7,3577 1902.7,3555.5 1904.2,3541.5 1905.2,3538.1 1907.2,3539.5 1908.7,3540.7 1910.2,3541.5 1911.7,3544.3 1912.8,3544.4 1914.7,3537.9 1916.2,3528 1917.7,3516.4 1918.9,3506.9 1920.7,3496.4 1922.2,3488.5 1923.7,3479.9 1925.2,3472.5 1926.5,3470.4 1928.2,3471.3 1929.7,3472.5 1931.2,3472.8 1932.6,3474.3 1934.2,3466.1 1935.7,3450.5 1937.2,3434.1 1938.7,3419 1940.2,3410.1 1941.7,3402.5 1943.3,3395.8" fill="none" stroke="#0000FF" stroke-width="2.3" stroke-linejoin="round"/>
<polyline points="240.7,4391.1 242.2,4391.3 243.7,4391 245.2,4391.9 246.7,4391.6 248.2,4391 249.7,4391.4 251.2,4391.7 252.7,4391.6 254.2,4392.1 255.7,4392 257.2,4391.4 258.7,4391.5 260.2,4391.2 261.7,4391.7 263.2,4391.7 264.7,4392.6 266.2,4391.7 267.7,4391 269.2,4391.5 270.7,4391.8 272.2,4391.4 273.7,4391.5 275.2,4391.7 276.7,4392 278.2,4391.8 279.7,4391.6 281.2,4392.2 282.7,4391.7 284.2,4391.8 285.7,4391.5 287.2,4391.7 288.7,4392.2 290.2,4391.4 291.7,4392 293.2,4392.2 294.7,4391.9 296.2,4392.1 297.7,4391.6 299.2,4392.5 300,4392.4 300.7,4392.1 302.2,4391.4 303.7,4391.6 305.2,4392.3 306.7,4392.6 308.2,4392.1 309.7,4392.4 311.2,4391.8 312.7,4391.9 314.2,4392 315.7,4392.1 317.2,4391.4 318.7,4392.3 320.2,4392.4 321.7,4391.6 323.2,4391.5 324.7,4392.1 326.2,4391.7 327.7,4391.1 329.2,4392.2 330.7,4392 332.2,4391.7 333.7,4392.6 335.2,4391.9 336.7,4391.6 338.2,4391.9 339.7,4391.5 341.2,4391.6 342.7,4392 344.2,4391.6 345.7,4391.6 347.2,4392.4 348.7,4392.1 350.2,4392 351.7,4391.9 353.2,4391.9 354.7,4392.2 356.2,4391.7 357.7,4392.3 359.2,4391.3 360.7,4391.5 362.2,4391.1 363.7,4391.4 365.2,4391.7 366.7,4392 368.2,4391.2 369.7,4391.4 371.2,4391.3 372.7,4391.1 374.2,4390.9 375.7,4391.3 377.2,4390.7 378.7,4391.3 380.3,4391.2 381.7,4390.8 383.2,4390.4 384.7,4389.7 386.2,4390.1 387.7,4388.1 389.2,4388.1 390.7,4386.7 392.2,4385.1 393.7,4383.6 395.2,4383 396.7,4381.9 398.2,4379.6 399.7,4378.4 401.2,4377.2 401.8,4376.7 402.7,4375.9 404.2,4374.5 405.7,4373.1 407.2,4371.5 408.7,4369.9 410.2,4368.3 411.7,4366.5 413.2,4364.7 414.7,4362.9 416.2,4361 417.7,4359.1 419.2,4357.1 420.7,4355.1 422.2,4353.1 423.7,4351 425.2,4348.9 426.7,4346.8 428.2,4344.7 429.7,4342.6 431.2,4340.5 432.7,4338.3 434,4336.5 435.7,4334.1 437.2,4332.1 438.7,4330.1 440.2,4328.1 441.7,4326.1 443.2,4324.1 444.7,4322.1 446.2,4320 447.7,4317.8 449.2,4315.5 450.7,4313.2 452.2,4310.7 453.7,4308.1 455.2,4305.4 456.7,4302.4 458.2,4299.3 459.7,4296.1 460.8,4293.5 462.7,4288.1 464.2,4282.7 465.7,4276.5 467.2,4269.9 468.7,4262.9 470.2,4255.8 471.7,4248.9 473.2,4242.4 474.7,4236.4 476.2,4231.2 476.9,4229.1 477.7,4226.9 479.2,4222.7 480.7,4218.6 482.2,4214.7 483.7,4211 485.2,4207.4 486.7,4204.2 488.2,4201.2 489.7,4198.6 491.2,4196.3 493,4194.2 494.2,4193 495.7,4191.5 497.2,4190.1 498.7,4188.9 500.2,4187.8 501.7,4187 503.2,4186.4 504.8,4186.2 506.2,4186.3 507.7,4186.5 509.2,4186.9 510.7,4187.4 512.2,4188.1 513.7,4188.7 515.2,4189.5 516.7,4190.3 518.2,4191.1 519.7,4191.8 521.2,4192.6 522.7,4193.3 524.2,4193.9 525.2,4194.2 527.2,4194.9 528.7,4195.4 530.2,4195.9 531.7,4196.4 533.2,4196.9 534.7,4197.5 536.2,4198 537.7,4198.5 539.2,4198.9 540.7,4199.4 542.2,4199.8 543.7,4200.1 545.2,4200.5 546.7,4200.7 548.2,4201 549.7,4201.1 551.2,4201.2 552.1,4201.2 552.7,4201.2 554.2,4200.8 555.7,4200.1 557.2,4199 558.7,4197.7 560.2,4196.1 561.7,4194.4 563.2,4192.6 564.7,4190.7 566.2,4188.7 568.2,4186.2 569.2,4184.8 570.7,4182.1 572.2,4178.9 573.7,4175.3 575.2,4171.6 576.7,4167.9 578.2,4164.4 579.7,4161.4 581.2,4159 582.7,4157.3 584.3,4156.7 585.7,4157.2 587.2,4158.8 588.7,4161.3 590.2,4164.4 591.7,4168.2 593.2,4172.3 594.7,4176.6 596.2,4180.9 597.7,4185 599.2,4188.8 600.4,4191.5 602.2,4195.3 603.7,4198.4 605.2,4201.5 606.7,4204.6 608.2,4207.7 609.7,4210.8 611.2,4213.8 612.7,4216.7 614.2,4219.6 615.7,4222.3 616.5,4223.8 617.2,4225.1 618.7,4228 620.2,4231 621.7,4234.1 623.2,4237.3 624.7,4240.5 626.2,4243.7 627.7,4246.8 629.2,4249.9 630.7,4252.8 632.2,4255.6 633.7,4258.1 635.2,4260.4 636.7,4262.4 638.2,4264 639.7,4265.3 641.2,4266.2 643.3,4266.7 644.2,4266.6 645.7,4266.2 647.2,4265.5 648.7,4264.6 650.2,4263.5 651.7,4262.4 653.2,4261.3 654.7,4260.3 656.2,4259.4 657.7,4258.9 659.4,4258.6 660.7,4258.9 662.2,4259.8 663.7,4261.2 665.2,4263.2 666.7,4265.4 668.2,4267.9 669.7,4270.5 671.2,4273.2 672.7,4275.8 674.2,4278.2 675.5,4280.1 677.2,4282.5 678.7,4284.7 680.2,4287 681.7,4289.3 683.2,4291.7 684.7,4294.1 686.2,4296.4 687.7,4298.7 689.2,4300.9 690.7,4302.9 692.2,4304.8 693.7,4306.6 695.2,4308.1 697,4309.6 698.2,4310.5 699.7,4311.6 701.2,4312.7 702.7,4313.8 704.2,4314.8 705.7,4315.8 707.2,4316.7 708.7,4317.4 710.2,4318.1 711.7,4318.6 713.2,4319 714.7,4319.2 715.8,4319.3 717.7,4319 719.2,4318.4 720.7,4317.5 722.2,4316.4 723.7,4315.2 725.2,4313.9 726.7,4312.5 728.2,4311.1 729.7,4309.9 731.2,4308.7 732.7,4307.8 734.6,4307 735.7,4306.7 737.2,4306.3 738.7,4306.1 740.2,4305.8 741.7,4305.6 743.2,4305.3 744.7,4305.1 746.2,4304.8 748,4304.3 749.2,4303.9 750.7,4303.1 752.2,4302.2 753.7,4301.1 755.2,4299.8 756.7,4298.6 758.2,4297.2 759.7,4295.9 761.2,4294.7 762.7,4293.6 764.2,4292.6 765.7,4291.8 767.2,4291.2 768.7,4290.8 769.5,4290.8 770.2,4290.9 771.7,4291.7 773.2,4293.1 774.7,4295.1 776.2,4297.6 777.7,4300.4 779.2,4303.5 780.7,4306.6 782.2,4309.8 783.7,4312.9 785.2,4315.8 786.7,4318.3 788.2,4320.4 789.7,4322.2 791.2,4324.1 792.7,4325.8 794.2,4327.6 795.7,4329.3 797.2,4331 798.7,4332.6 800.2,4334.1 801.7,4335.6 803.2,4337 804.7,4338.3 806.2,4339.5 807.7,4340.5 809.7,4341.8 810.7,4342.4 812.2,4343.1 813.7,4343.9 815.2,4344.6 816.7,4345.2 818.2,4345.8 819.7,4346.4 821.2,4346.9 822.7,4347.4 824.2,4348 826,4348.6 827.2,4349 828.7,4349.5 830.2,4350.1 831.7,4350.6 833.2,4351.1 834.7,4351.6 836.2,4352.1 837.7,4352.6 839.2,4353.1 840.7,4353.5 842.2,4354 843.7,4354.5 845.2,4355 846.7,4355.4 848.2,4355.9 849.7,4356.3 851.2,4356.8 852.7,4357.2 854.2,4357.6 855.7,4358.1 857.2,4358.5 858.7,4358.9 860.2,4359.3 861.7,4359.7 863.2,4360.1 864.7,4360.5 866.2,4360.9 867.7,4361.3 869.2,4361.7 870.7,4362.1 872.2,4362.4 873.7,4362.8 875.2,4363.2 876.7,4363.5 877.8,4363.8 879.7,4364.3 881.2,4364.6 882.7,4365 884.2,4365.3 885.7,4365.7 887.2,4366 888.7,4366.4 890.2,4366.7 891.7,4367.1 893.2,4367.4 894.7,4367.8 896.2,4368.1 897.7,4368.4 899.2,4368.8 900.7,4369.1 902.2,4369.4 903.7,4369.7 905.2,4370 906.7,4370.4 908.2,4370.7 909.7,4371 911.2,4371.2 912.7,4371.5 914.2,4371.8 915.7,4372.1 917.2,4372.3 918.7,4372.6 920.2,4372.8 921.7,4373.1 923.2,4373.3 924.7,4373.5 926.2,4373.7 927.7,4373.9 929.7,4374.2 930.7,4374.3 932.2,4374.5 933.7,4374.7 935.2,4374.8 936.7,4375 938.2,4375.2 939.7,4375.3 941.2,4375.5 942.7,4375.6 944.2,4375.8 945.7,4375.9 947.2,4376.1 948.7,4376.2 950.2,4376.3 951.7,4376.5 953.2,4376.6 954.7,4376.7 956.2,4376.8 957.7,4376.9 959.2,4377.1 960.7,4377.2 962.2,4377.3 963.7,4377.4 965.2,4377.5 966.7,4377.6 968.2,4377.7 969.7,4377.8 971.2,4378 972.7,4378.1 974.2,4378.2 975.7,4378.3 977.2,4378.4 978.7,4378.5 980.2,4378.6 981.7,4378.7 983.2,4378.8 984.7,4378.9 986.2,4379.1 987.7,4379.2 989.2,4379.3 990.7,4379.4 992.2,4379.5 993.7,4379.6 995.2,4379.8 996.7,4379.9 998.2,4380 999.7,4380.2 1001.2,4380.3 1002.7,4380.4 1004.2,4380.6 1005.7,4380.7 1007.5,4380.9 1008.7,4381 1010.2,4381.2 1011.7,4381.4 1013.2,4381.6 1014.7,4381.8 1016.2,4382 1017.7,4382.2 1019.2,4382.4 1020.7,4382.6 1022.2,4382.9 1023.7,4383.1 1025.2,4383.4 1026.7,4383.6 1028.2,4383.8 1029.7,4384.1 1031.2,4384.3 1032.7,4384.5 1034.2,4384.8 1035.7,4385 1037.2,4385.2 1038.7,4385.4 1040.2,4385.6 1041.7,4385.8 1043.2,4386 1044.7,4386.2 1046.2,4386.4 1047.7,4386.5 1049.2,4386.6 1050.7,4386.8 1052.2,4386.9 1053.7,4387 1055.2,4387 1056.7,4387.1 1058.2,4387.1 1059.3,4387.1 1061.2,4387.1 1062.7,4387.1 1064.2,4387.1 1065.7,4387.1 1067.2,4387.1 1068.7,4387.1 1070.2,4387.1 1071.7,4387.1 1073.2,4387.1 1074.7,4387.1 1076.2,4387.1 1077.7,4387.1 1079.2,4387.1 1080.7,4387.1 1082.2,4387.1 1083.7,4387.1 1085.2,4387.1 1086.7,4387.1 1088.2,4387.1 1089.7,4387.1 1091.2,4389 1092.7,4387.7 1094.2,4390.7 1095.7,4386.1 1097.2,4388.1 1098.7,4384.8 1100.2,4390.9 1101.7,4385.8 1103.2,4383.1 1104.7,4386.9 1106.2,4386.8 1107.7,4390.5 1109.2,4386.5 1111.2,4387.1 1112.2,4388.2 1113.7,4390 1115.2,4387 1116.7,4389 1118.2,4388.1 1119.7,4386.6 1121.2,4387.3 1122.7,4387.3 1124.2,4385.6 1125.7,4389.5 1127.2,4384.9 1128.7,4389.5 1130.2,4389.2 1131.7,4387.4 1133.2,4386.2 1134.7,4387.3 1136.2,4388.6 1137.7,4389.2 1139.2,4388.4 1140.7,4389.8 1142.2,4387.1 1143.7,4388.6 1145.2,4385.4 1146.7,4389.7 1148.2,4388.7 1149.7,4387.8 1151.2,4390.8 1152.7,4390.1 1154.2,4383.9 1155.7,4389.1 1157.2,4386.6 1158.7,4391.2 1160.2,4393.9 1161.7,4388.6 1163.1,4389.8 1164.7,4389.5 1166.2,4390.9 1167.7,4391.8 1169.2,4393.4 1170.7,4389.9 1172.2,4395.1 1173.7,4391.2 1175.2,4394 1176.7,4396.3 1178.2,4396.1 1179.7,4393.7 1181.2,4394.7 1182.7,4395.6 1184.2,4396.8 1185.7,4399.3 1187.2,4395.1 1189,4398.3 1190.2,4398.6 1191.7,4398.4 1193.2,4398 1194.7,4399.7 1196.2,4397.5 1197.7,4397.8 1199.2,4396.9 1200.7,4398.8 1202.2,4391.7 1203.7,4397 1205.2,4393.8 1206.7,4393.4 1208.2,4391.7 1209.7,4389.8 1211.2,4392.1 1212.7,4391.3 1214.2,4393.3 1214.9,4389.6 1215.7,4394.8 1217.2,4392.6 1218.7,4391.6 1220.2,4390.6 1221.7,4390.4 1223.2,4389.7 1224.7,4390.6 1226.2,4391.5 1227.7,4391.1 1229.2,4388.8 1230.7,4390.8 1232.2,4389.6 1233.7,4391.5 1235.2,4394.5 1236.7,4392.2 1238.2,4390.5 1239.7,4388 1241.2,4390.1 1242.7,4389.9 1244.2,4391.2 1245.7,4390.3 1247.2,4390.7 1248.7,4390.3 1250.2,4390.6 1251.7,4391.4 1253.2,4390.1 1254.7,4390.2 1256.2,4389.9 1257.7,4390.8 1259.2,4389.6 1260.7,4389.4 1262.2,4389.2 1263.7,4389.1 1265.2,4390.1 1266.8,4391.2 1268.2,4389 1269.7,4390 1271.2,4389.5 1272.7,4388.6 1274.2,4388.9 1275.7,4388.8 1277.2,4388.4 1278.7,4389.8 1280.2,4387.4 1281.7,4388.6 1283.2,4388.4 1284.7,4387.7 1286.2,4387.9 1287.7,4388.2 1289.2,4387.6 1290.7,4387.5 1292.2,4387.5 1293.7,4385.6 1295.2,4387.5 1296.7,4387.8 1298.2,4386.8 1299.7,4386.5 1301.2,4384.8 1302.7,4385.3 1304.2,4384.7 1305.7,4384.5 1307.2,4385.2 1308.7,4383.8 1310.2,4383.9 1311.7,4382.5 1313.2,4383.2 1314.7,4383 1316.2,4382.2 1317.7,4381.8 1318.7,4383.1 1320.7,4380.7 1322.2,4380.3 1323.7,4379.9 1325.2,4380.4 1326.7,4380.2 1328.2,4378.2 1330,4376.1 1331.2,4376.4 1332.7,4373 1334.2,4372.1 1335.7,4369.2 1337.2,4365 1338.7,4361.7 1340.2,4357.4 1341.7,4352.7 1343.2,4344.4 1344.3,4340.4 1346.2,4323.7 1347.7,4305.5 1348.6,4293.9 1349.2,4284 1350.7,4251.9 1352.2,4218.9 1352.9,4207.2 1353.7,4197.4 1355.2,4178.4 1357.2,4156.9 1358.2,4148 1359.7,4134.4 1360.9,4130.6 1362.7,4136.1 1364.2,4142.8 1365.8,4147.1 1367.2,4147.5 1368.7,4146 1370.2,4143.5 1371.5,4142.4 1373.2,4130.9 1374.7,4118.5 1375.8,4113.5 1377.7,4123.3 1379.2,4140.2 1380.1,4150.6 1380.7,4158.4 1382.2,4186.1 1383.7,4214 1384.4,4222.7 1385.2,4231.1 1387.2,4241.1 1388.2,4240.4 1389.7,4233.5 1391.5,4222.3 1392.7,4212.2 1394.2,4195.6 1395.7,4177 1397.2,4156.1 1398.7,4135.6 1400.2,4118.4 1401.7,4098.8 1403.2,4078.7 1404.4,4065.4 1406.2,4039.9 1407.7,4024 1408.7,4018.8 1410.7,4027.9 1412.2,4042.4 1413,4050 1413.7,4058 1415.2,4078.4 1416.7,4102 1418.2,4125.1 1420.2,4148.1 1421.2,4160.1 1422.7,4171.7 1424.2,4185 1425.7,4196.3 1427.2,4205.5 1428.7,4213.9 1430.2,4222.1 1431.7,4230 1433.2,4237.8 1434.7,4245.7 1436.2,4253.2 1437.7,4261.7 1439.2,4267 1440.7,4272.8 1442.2,4275.6 1443.7,4277.8 1444.5,4277.9 1445.2,4278.1 1446.7,4276.7 1448.2,4273.4 1449.7,4268.9 1451.2,4264.4 1453.1,4260.6 1454.2,4255.8 1455.7,4250.2 1457.2,4245 1458.7,4237.8 1460.2,4230 1461.7,4221.9 1463.2,4216.4 1464.7,4207.9 1466.2,4201.5 1467.4,4196.4 1469.2,4188.3 1470.7,4182.1 1472.2,4177.4 1473.7,4172.7 1475.2,4169.5 1476,4168.5 1476.7,4168.7 1478.2,4172.6 1479.7,4176.8 1481.7,4185.6 1482.7,4189.9 1484.2,4198.9 1485.7,4204.8 1487.4,4207.5 1488.7,4201.6 1490.2,4183.2 1491.7,4164.6 1493.2,4131 1494.7,4096.8 1495.4,4091 1496.2,4094.1 1497.7,4110.9 1498.9,4128.3 1500.7,4162.4 1502.2,4191.9 1503.2,4207.6 1505.2,4229 1506.7,4245.8 1508.2,4256.7 1510.3,4262.8 1511.2,4260.4 1512.7,4256 1514.2,4247.4 1516,4236.6 1517.2,4227.1 1518.7,4212.5 1520.2,4197.2 1521.8,4188.5 1523.2,4184.2 1524.7,4180.5 1526.2,4178.5 1527.5,4177.6 1529.2,4182.4 1530.7,4190 1532.2,4201 1533.2,4207.6 1535.2,4225.9 1536.7,4244.9 1538.2,4259 1538.9,4265.7 1539.7,4270.9 1541.2,4279.5 1542.7,4288.3 1544.7,4293.4 1545.7,4291.5 1547.2,4283.6 1548.7,4274.8 1550.2,4265 1551.8,4261.2 1553.2,4263.9 1554.7,4273.3 1556.2,4283.7 1557.7,4294.2 1559,4299.9 1560.7,4302.9 1562.2,4305.1 1563.7,4306.7 1565.2,4309.2 1566.7,4310.7 1567.5,4310.8 1568.2,4310.9 1569.7,4312.9 1571.2,4315 1573.3,4313.6 1574.2,4312.1 1575.7,4303.1 1577.2,4290.2 1579,4285.3 1580.2,4286.3 1581.7,4293.2 1583.2,4299.5 1584.7,4306.8 1586.2,4313 1587.6,4315.4 1589.2,4313 1590.7,4308.4 1592.2,4299.9 1593.3,4293.6 1595.2,4254.3 1596.7,4206.1 1597.6,4179.8 1598.2,4163.8 1599.7,4121.3 1601.2,4090 1601.9,4086.1 1602.7,4088.7 1604.2,4105.3 1606.2,4133.7 1607.2,4146.4 1608.7,4168.2 1610.2,4187.1 1611.9,4196 1613.2,4188.6 1614.7,4171.3 1616.2,4149.3 1617.7,4127.5 1619.2,4100.7 1620.5,4077.9 1622.2,4050.1 1623.4,4039.7 1625.2,4043 1626.7,4048.9 1627.7,4050.4 1629.7,4042.7 1631.2,4034.3 1631.9,4027.9 1632.7,4014.8 1634.8,3951 1635.7,3914.7 1637.7,3835.5 1638.7,3810.7 1640.2,3778.2 1642.2,3758.6 1643.2,3764.9 1644.7,3793.9 1646.7,3836.6 1647.7,3850.3 1649.2,3869.8 1651.3,3895.7 1652.2,3912.6 1654.3,3942.3 1655.2,3938.9 1656.7,3919.4 1658.2,3894.3 1658.9,3881.8 1659.7,3865.7 1661.2,3826.3 1662.7,3795.2 1663.5,3788.8 1664.2,3790.5 1665.7,3794.9 1667.2,3803.4 1668.7,3814.5 1669.5,3821.4 1670.2,3828.8 1671.7,3851.5 1673.2,3879.5 1674.1,3897.6 1674.7,3909.2 1676.2,3943.6 1677.7,3979.6 1678.7,4003.5 1680.2,4046.5 1682.2,4078 1683.2,4090.4 1685.2,4116.9 1686.3,4127.1 1688.2,4140.3 1689.7,4146.2 1690.8,4151 1692.7,4170.9 1694.2,4184.9 1695.4,4191.4 1697.2,4174.2 1698.7,4150.3 1700.6,4135.3 1701.7,4141.5 1703.2,4163 1704.5,4181 1706.2,4206.2 1707.7,4227.1 1709.1,4235.9 1710.7,4243.6 1712.2,4245.9 1713.6,4249.5 1715.2,4248.9 1716.7,4248.9 1718.2,4250.1 1719.7,4249.8 1721.2,4245.4 1722.7,4237.9 1724.2,4227.5 1725.7,4219.4 1726.7,4220.4 1728.7,4224.5 1730.2,4233.2 1731.9,4243.5 1733.2,4249.4 1734.7,4258.9 1736.2,4267.5 1738,4271.8 1739.2,4272.2 1740.7,4272.8 1742.2,4271.5 1743.7,4271.9 1745.2,4271.6 1747.1,4269.9 1748.2,4270.4 1749.7,4268.5 1751.2,4268.4 1752.7,4266.2 1754.2,4263.8 1755.7,4260.6 1757.7,4258.6 1758.7,4256.3 1760.2,4254.2 1761.7,4250 1763.2,4245.6 1764.7,4242.5 1766.2,4238.1 1767.7,4232.8 1769.2,4229.9 1770.7,4225.1 1772.2,4221.7 1772.9,4220.6 1773.7,4218.5 1775.2,4216.5 1776.7,4214.7 1778.2,4214 1779.7,4212 1781.2,4208.5 1782.7,4207 1783.6,4203.8 1784.2,4202.4 1785.7,4196.6 1787.2,4188.4 1788.7,4181.4 1790.2,4172 1791.2,4166.5 1793.2,4159.9 1794.7,4152.8 1796.2,4148.1 1797.3,4143.9 1799.2,4144.3 1800.7,4142.9 1802.2,4141.8 1803.7,4141.1 1805.2,4140.7 1806.7,4138.3 1808.2,4137.5 1809.4,4134.8 1811.2,4130.8 1812.7,4126.5 1814.2,4120.4 1815.5,4114.7 1817.2,4110.1 1818.7,4104.6 1820.2,4099.7 1821.6,4097.6 1823.2,4094.8 1824.7,4092.3 1826.2,4091.3 1827.7,4092.4 1829.2,4089.7 1830.7,4090.6 1832.2,4090.6 1833.8,4090.1 1835.2,4086.7 1836.7,4082.5 1838.2,4076.4 1839.7,4070 1841.2,4062.7 1842.9,4057.4 1844.2,4057.1 1845.7,4055.6 1847.5,4052 1848.7,4040.3 1850.5,4019 1851.7,4012.9 1853.2,4008.5 1855.1,3999.1 1856.2,3990.1 1858.1,3973 1859.2,3969.7 1860.7,3968.2 1862.2,3966.4 1864.2,3963.6 1865.2,3962.7 1866.7,3959.5 1868.2,3958.5 1869.7,3957 1871.2,3954.9 1872.7,3953.2 1874.2,3949.2 1875.7,3946.1 1876.4,3945.9 1877.2,3943.9 1878.7,3939.8 1880.2,3932.6 1881.7,3925.9 1882.4,3925 1883.2,3921.5 1884.7,3916.5 1886.2,3915.4 1887.7,3911.3 1888.5,3911.2 1889.2,3911.7 1890.7,3917 1892.2,3923.3 1893.7,3932.5 1894.6,3935.9 1895.2,3939.4 1896.7,3954.1 1898.2,3965.2 1899.2,3967.4 1901.2,3957.7 1902.7,3944.3 1904.2,3932.7 1905.2,3931.6 1907.2,3943.8 1908.7,3961.7 1909.8,3973.4 1911.7,3993.7 1913.2,4009.6 1914.7,4021.8 1915.9,4024 1917.7,4023.8 1919.2,4022.6 1920.7,4018.6 1922,4018.1 1923.7,4022.1 1925.2,4028.3 1926.5,4033.9 1928.2,4040.6 1929.7,4050.5 1931.1,4057.4 1932.6,4066.3 1934.2,4061.8 1935.7,4051.3 1937.2,4044.7 1938.7,4042.7 1940.2,4038.2 1941.7,4037 1943.3,4080" fill="none" stroke="#FF0000" stroke-width="2.0" stroke-linejoin="round"/>
</g>
<line x1="231.5" y1="3331.6" x2="1964.5" y2="3331.6" stroke="#000" stroke-width="6.5" stroke-linecap="butt"/>
<line x1="1961.2" y1="3328.3" x2="1961.2" y2="4427.6" stroke="#000" stroke-width="6.5" stroke-linecap="butt"/>
<line x1="231.5" y1="4424.3" x2="1964.5" y2="4424.3" stroke="#000" stroke-width="6.5" stroke-linecap="butt"/>
<line x1="234.9" y1="3328.3" x2="234.9" y2="3880" stroke="#000" stroke-width="7.5" stroke-linecap="butt"/>
<line x1="235.4" y1="3880" x2="235.4" y2="4427.6" stroke="#000" stroke-width="8.5" stroke-linecap="butt"/>
<line x1="226" y1="3348.7" x2="235.5" y2="3348.7" stroke="#000" stroke-width="3.0" stroke-linecap="butt"/>
<line x1="226" y1="3370.7" x2="235.5" y2="3370.7" stroke="#000" stroke-width="3.0" stroke-linecap="butt"/>
<line x1="226" y1="3392.7" x2="235.5" y2="3392.7" stroke="#000" stroke-width="3.0" stroke-linecap="butt"/>
<line x1="226" y1="3414.6" x2="235.5" y2="3414.6" stroke="#000" stroke-width="3.0" stroke-linecap="butt"/>
<line x1="220" y1="3436.6" x2="235.5" y2="3436.6" stroke="#000" stroke-width="3.5" stroke-linecap="butt"/>
<line x1="226" y1="3458.6" x2="235.5" y2="3458.6" stroke="#000" stroke-width="3.0" stroke-linecap="butt"/>
<line x1="226" y1="3480.5" x2="235.5" y2="3480.5" stroke="#000" stroke-width="3.0" stroke-linecap="butt"/>
<line x1="226" y1="3502.5" x2="235.5" y2="3502.5" stroke="#000" stroke-width="3.0" stroke-linecap="butt"/>
<line x1="226" y1="3524.5" x2="235.5" y2="3524.5" stroke="#000" stroke-width="3.0" stroke-linecap="butt"/>
<line x1="220" y1="3546.5" x2="235.5" y2="3546.5" stroke="#000" stroke-width="3.5" stroke-linecap="butt"/>
<line x1="226" y1="3568.4" x2="235.5" y2="3568.4" stroke="#000" stroke-width="3.0" stroke-linecap="butt"/>
<line x1="226" y1="3590.4" x2="235.5" y2="3590.4" stroke="#000" stroke-width="3.0" stroke-linecap="butt"/>
<line x1="226" y1="3612.4" x2="235.5" y2="3612.4" stroke="#000" stroke-width="3.0" stroke-linecap="butt"/>
<line x1="226" y1="3634.4" x2="235.5" y2="3634.4" stroke="#000" stroke-width="3.0" stroke-linecap="butt"/>
<line x1="220" y1="3656.3" x2="235.5" y2="3656.3" stroke="#000" stroke-width="3.5" stroke-linecap="butt"/>
<line x1="226" y1="3678.3" x2="235.5" y2="3678.3" stroke="#000" stroke-width="3.0" stroke-linecap="butt"/>
<line x1="226" y1="3700.3" x2="235.5" y2="3700.3" stroke="#000" stroke-width="3.0" stroke-linecap="butt"/>
<line x1="226" y1="3722.3" x2="235.5" y2="3722.3" stroke="#000" stroke-width="3.0" stroke-linecap="butt"/>
<line x1="226" y1="3744.2" x2="235.5" y2="3744.2" stroke="#000" stroke-width="3.0" stroke-linecap="butt"/>
<line x1="220" y1="3766.2" x2="235.5" y2="3766.2" stroke="#000" stroke-width="3.5" stroke-linecap="butt"/>
<line x1="226" y1="3788.2" x2="235.5" y2="3788.2" stroke="#000" stroke-width="3.0" stroke-linecap="butt"/>
<line x1="226" y1="3810.2" x2="235.5" y2="3810.2" stroke="#000" stroke-width="3.0" stroke-linecap="butt"/>
<line x1="226" y1="3832.1" x2="235.5" y2="3832.1" stroke="#000" stroke-width="3.0" stroke-linecap="butt"/>
<line x1="226" y1="3854.1" x2="235.5" y2="3854.1" stroke="#000" stroke-width="3.0" stroke-linecap="butt"/>
<line x1="220" y1="3876.1" x2="235.5" y2="3876.1" stroke="#000" stroke-width="3.5" stroke-linecap="butt"/>
<line x1="226" y1="3898.1" x2="235.5" y2="3898.1" stroke="#000" stroke-width="3.0" stroke-linecap="butt"/>
<line x1="226" y1="3920" x2="235.5" y2="3920" stroke="#000" stroke-width="3.0" stroke-linecap="butt"/>
<line x1="226" y1="3942" x2="235.5" y2="3942" stroke="#000" stroke-width="3.0" stroke-linecap="butt"/>
<line x1="226" y1="3964" x2="235.5" y2="3964" stroke="#000" stroke-width="3.0" stroke-linecap="butt"/>
<line x1="220" y1="3985.9" x2="235.5" y2="3985.9" stroke="#000" stroke-width="3.5" stroke-linecap="butt"/>
<line x1="226" y1="4007.9" x2="235.5" y2="4007.9" stroke="#000" stroke-width="3.0" stroke-linecap="butt"/>
<line x1="226" y1="4029.9" x2="235.5" y2="4029.9" stroke="#000" stroke-width="3.0" stroke-linecap="butt"/>
<line x1="226" y1="4051.9" x2="235.5" y2="4051.9" stroke="#000" stroke-width="3.0" stroke-linecap="butt"/>
<line x1="226" y1="4073.8" x2="235.5" y2="4073.8" stroke="#000" stroke-width="3.0" stroke-linecap="butt"/>
<line x1="220" y1="4095.8" x2="235.5" y2="4095.8" stroke="#000" stroke-width="3.5" stroke-linecap="butt"/>
<line x1="226" y1="4117.8" x2="235.5" y2="4117.8" stroke="#000" stroke-width="3.0" stroke-linecap="butt"/>
<line x1="226" y1="4139.8" x2="235.5" y2="4139.8" stroke="#000" stroke-width="3.0" stroke-linecap="butt"/>
<line x1="226" y1="4161.7" x2="235.5" y2="4161.7" stroke="#000" stroke-width="3.0" stroke-linecap="butt"/>
<line x1="226" y1="4183.7" x2="235.5" y2="4183.7" stroke="#000" stroke-width="3.0" stroke-linecap="butt"/>
<line x1="220" y1="4205.7" x2="235.5" y2="4205.7" stroke="#000" stroke-width="3.5" stroke-linecap="butt"/>
<line x1="226" y1="4227.7" x2="235.5" y2="4227.7" stroke="#000" stroke-width="3.0" stroke-linecap="butt"/>
<line x1="226" y1="4249.6" x2="235.5" y2="4249.6" stroke="#000" stroke-width="3.0" stroke-linecap="butt"/>
<line x1="226" y1="4271.6" x2="235.5" y2="4271.6" stroke="#000" stroke-width="3.0" stroke-linecap="butt"/>
<line x1="226" y1="4293.6" x2="235.5" y2="4293.6" stroke="#000" stroke-width="3.0" stroke-linecap="butt"/>
<line x1="220" y1="4315.6" x2="235.5" y2="4315.6" stroke="#000" stroke-width="3.5" stroke-linecap="butt"/>
<line x1="226" y1="4337.5" x2="235.5" y2="4337.5" stroke="#000" stroke-width="3.0" stroke-linecap="butt"/>
<line x1="226" y1="4359.5" x2="235.5" y2="4359.5" stroke="#000" stroke-width="3.0" stroke-linecap="butt"/>
<line x1="226" y1="4381.5" x2="235.5" y2="4381.5" stroke="#000" stroke-width="3.0" stroke-linecap="butt"/>
<line x1="226" y1="4403.5" x2="235.5" y2="4403.5" stroke="#000" stroke-width="3.0" stroke-linecap="butt"/>
<line x1="220" y1="4425.4" x2="235.5" y2="4425.4" stroke="#000" stroke-width="3.5" stroke-linecap="butt"/>
<line x1="234.9" y1="4424.3" x2="234.9" y2="4439" stroke="#000" stroke-width="5.5" stroke-linecap="butt"/>
<line x1="712.3" y1="4424.3" x2="712.3" y2="4443" stroke="#000" stroke-width="6.5" stroke-linecap="butt"/>
<line x1="1195" y1="4424.3" x2="1195" y2="4443" stroke="#000" stroke-width="6.5" stroke-linecap="butt"/>
<line x1="1677" y1="4424.3" x2="1677" y2="4443" stroke="#000" stroke-width="6.5" stroke-linecap="butt"/>
<line x1="326.1" y1="4424.3" x2="326.1" y2="4435" stroke="#000" stroke-width="5.5" stroke-linecap="butt"/>
<line x1="421.1" y1="4424.3" x2="421.1" y2="4435" stroke="#000" stroke-width="5.5" stroke-linecap="butt"/>
<line x1="517.8" y1="4424.3" x2="517.8" y2="4435" stroke="#000" stroke-width="5.5" stroke-linecap="butt"/>
<line x1="614.4" y1="4424.3" x2="614.4" y2="4435" stroke="#000" stroke-width="5.5" stroke-linecap="butt"/>
<line x1="807" y1="4424.3" x2="807" y2="4435" stroke="#000" stroke-width="5.5" stroke-linecap="butt"/>
<line x1="903.6" y1="4424.3" x2="903.6" y2="4435" stroke="#000" stroke-width="5.5" stroke-linecap="butt"/>
<line x1="999.3" y1="4424.3" x2="999.3" y2="4435" stroke="#000" stroke-width="5.5" stroke-linecap="butt"/>
<line x1="1095.9" y1="4424.3" x2="1095.9" y2="4435" stroke="#000" stroke-width="5.5" stroke-linecap="butt"/>
<line x1="1291" y1="4424.3" x2="1291" y2="4435" stroke="#000" stroke-width="5.5" stroke-linecap="butt"/>
<line x1="1386.9" y1="4424.3" x2="1386.9" y2="4435" stroke="#000" stroke-width="5.5" stroke-linecap="butt"/>
<line x1="1483" y1="4424.3" x2="1483" y2="4435" stroke="#000" stroke-width="5.5" stroke-linecap="butt"/>
<line x1="1580.8" y1="4424.3" x2="1580.8" y2="4435" stroke="#000" stroke-width="5.5" stroke-linecap="butt"/>
<line x1="1774.8" y1="4424.3" x2="1774.8" y2="4435" stroke="#000" stroke-width="5.5" stroke-linecap="butt"/>
<line x1="1871" y1="4424.3" x2="1871" y2="4435" stroke="#000" stroke-width="5.5" stroke-linecap="butt"/>
<line x1="504.2" y1="3919.5" x2="504.2" y2="3999.8" stroke="#000" stroke-width="4.2" stroke-linecap="butt"/>
<line x1="585.6" y1="3906.7" x2="585.6" y2="3983.5" stroke="#000" stroke-width="4.2" stroke-linecap="butt"/>
<line x1="662.3" y1="3981.2" x2="662.3" y2="4055.6" stroke="#000" stroke-width="4.2" stroke-linecap="butt"/>
<line x1="1358.1" y1="3869.8" x2="1358.1" y2="3959.3" stroke="#000" stroke-width="4.2" stroke-linecap="butt"/>
<line x1="1376.7" y1="3832.1" x2="1376.7" y2="3939.5" stroke="#000" stroke-width="4.2" stroke-linecap="butt"/>
<line x1="1495" y1="3701.5" x2="1495" y2="3791.2" stroke="#000" stroke-width="4.2" stroke-linecap="butt"/>
<line x1="1642" y1="3619.5" x2="1642" y2="3711" stroke="#000" stroke-width="4.2" stroke-linecap="butt"/>
<line x1="1663.5" y1="3577.5" x2="1663.5" y2="3670.5" stroke="#000" stroke-width="4.2" stroke-linecap="butt"/>
<line x1="1887.9" y1="3831.6" x2="1887.9" y2="3900" stroke="#000" stroke-width="4.2" stroke-linecap="butt"/>
<text id="a_lbl" x="44.4" y="121.4" font-size="115.00" font-family="'Liberation Sans', Arial, sans-serif" fill="#000" textLength="146.2" lengthAdjust="spacing">(a)</text>
<text id="a_leg1" x="1394.3" y="208.4" font-size="57.33" font-family="'Liberation Sans', Arial, sans-serif" fill="#000" textLength="459.8" lengthAdjust="spacing">ChNF/in-situ ZnO</text>
<text id="a_leg2" x="1395.5" y="278.6" font-size="56.00" font-family="'Liberation Sans', Arial, sans-serif" fill="#000" textLength="148.4" lengthAdjust="spacing">ChNF</text>
<text id="a_ytitle" transform="translate(96.1,971.0) rotate(-90)" x="0" y="0" font-size="62.50" font-family="'Liberation Sans', Arial, sans-serif" fill="#000" textLength="443.0" lengthAdjust="spacing"><tspan font-weight="bold" font-style="italic">ζ</tspan>-potential (mV)</text>
<text id="a_xtitle" x="1004.4" y="1533.2" font-size="57.25" font-family="'Liberation Sans', Arial, sans-serif" fill="#000" font-weight="bold" textLength="82.7" lengthAdjust="spacing">p<tspan font-style="italic">H</tspan></text>
<text id="b_lbl" x="49.4" y="1681.6" font-size="115.00" font-family="'Liberation Sans', Arial, sans-serif" fill="#000" textLength="147.4" lengthAdjust="spacing">(b)</text>
<text id="b_leg1" x="500.7" y="1776.9" font-size="62.00" font-family="'Liberation Sans', Arial, sans-serif" fill="#000" textLength="512.1" lengthAdjust="spacing">ChNF/in-situ ZnO</text>
<text id="b_leg2" x="500.7" y="1858.3" font-size="62.00" font-family="'Liberation Sans', Arial, sans-serif" fill="#000" textLength="167.9" lengthAdjust="spacing">ChNF</text>
<text id="b_p101" x="1113.6" y="1848.6" font-size="62.00" font-family="'Liberation Sans', Arial, sans-serif" fill="#000" textLength="156.3" lengthAdjust="spacing">(101)</text>
<text id="b_p002" x="1013.0" y="2125.0" font-size="62.00" font-family="'Liberation Sans', Arial, sans-serif" fill="#000" textLength="156.8" lengthAdjust="spacing">(002)</text>
<text id="b_p100" x="923.2" y="2223.8" font-size="62.00" font-family="'Liberation Sans', Arial, sans-serif" fill="#000" textLength="157.9" lengthAdjust="spacing">(100)</text>
<text id="b_p102" x="1474.6" y="2751.2" font-size="62.00" font-family="'Liberation Sans', Arial, sans-serif" fill="#000" textLength="159.8" lengthAdjust="spacing">(102)</text>
<text id="b_p110" x="1756.0" y="2651.8" font-size="62.00" font-family="'Liberation Sans', Arial, sans-serif" fill="#000" textLength="157.1" lengthAdjust="spacing">(110)</text>
<text id="b_q020" x="294.8" y="2759.4" font-size="46.00" font-family="'Liberation Sans', Arial, sans-serif" fill="#0000FF" textLength="114.4" lengthAdjust="spacing">(020)</text>
<text id="b_q101" x="414.6" y="2859.0" font-size="40.04" font-family="'Liberation Sans', Arial, sans-serif" fill="#0000FF" textLength="97.6" lengthAdjust="spacing">(101)</text>
<text id="b_q040" x="563.4" y="2725.2" font-size="40.00" font-family="'Liberation Sans', Arial, sans-serif" fill="#0000FF" textLength="203.3" lengthAdjust="spacing">(040),(110)</text>
<text id="b_q130" x="737.2" y="2829.3" font-size="40.00" font-family="'Liberation Sans', Arial, sans-serif" fill="#0000FF" textLength="96.4" lengthAdjust="spacing">(130)</text>
<text id="b_q013" x="842.4" y="2778.6" font-size="40.00" font-family="'Liberation Sans', Arial, sans-serif" fill="#0000FF" textLength="96.4" lengthAdjust="spacing">(013)</text>
<text id="b_inten" x="472.0" y="2401.1" font-size="55.00" font-family="'Liberation Sans', Arial, sans-serif" fill="#000" textLength="123.1" lengthAdjust="spacing">Inten</text>
<text id="b_ytitle" transform="translate(131.1,2544.0) rotate(-90)" x="0" y="0" font-size="66.00" font-family="'Liberation Sans', Arial, sans-serif" fill="#000" textLength="446.5" lengthAdjust="spacing">Intensity (a. u.)</text>
<text id="b_xtitle" x="836.1" y="3229.3" font-size="61.50" font-family="'Liberation Sans', Arial, sans-serif" fill="#000" textLength="507.0" lengthAdjust="spacing">2 theta (degrees)</text>
<text id="c_lbl" x="22.0" y="3356.0" font-size="113.00" font-family="'Liberation Sans', Arial, sans-serif" fill="#000" textLength="142.2" lengthAdjust="spacing">(c)</text>
<text id="c_leg1" x="247.6" y="3388.6" font-size="54.50" font-family="'Liberation Sans', Arial, sans-serif" fill="#0000FF" textLength="423.2" lengthAdjust="spacing">ChNF/in-situ ZnO</text>
<text id="c_leg2" x="258.6" y="3498.9" font-size="55.47" font-family="'Liberation Sans', Arial, sans-serif" fill="#FF0000" textLength="143.0" lengthAdjust="spacing">ChNF</text>
<text id="c_ytitle" transform="translate(144.8,3997.0) rotate(-90)" x="0" y="0" font-size="61.00" font-family="'Liberation Sans', Arial, sans-serif" fill="#000" textLength="327.8" lengthAdjust="spacing">Absorbance</text>
<text id="c_xtitle" x="787.4" y="4581.9" font-size="60.00" font-family="'Liberation Sans', Arial, sans-serif" fill="#000" textLength="541.6" lengthAdjust="spacing">Wavenumber (cm<tspan dy="-26" font-size="38">-1</tspan><tspan dy="26">)</tspan></text>
<text id="c_x4000" x="174.5" y="4484.7" font-size="54.97" font-family="'Liberation Sans', Arial, sans-serif" fill="#000" textLength="122.3" lengthAdjust="spacing">4000</text>
<text id="c_x3000" x="657.5" y="4484.7" font-size="54.97" font-family="'Liberation Sans', Arial, sans-serif" fill="#000" textLength="119.7" lengthAdjust="spacing">3000</text>
<text id="c_x2000" x="1139.0" y="4484.7" font-size="54.97" font-family="'Liberation Sans', Arial, sans-serif" fill="#000" textLength="119.9" lengthAdjust="spacing">2000</text>
<text id="c_x1000" x="1622.0" y="4484.7" font-size="54.97" font-family="'Liberation Sans', Arial, sans-serif" fill="#000" textLength="119.1" lengthAdjust="spacing">1000</text>
<text id="c_s3420" transform="translate(517.7,3898.5) rotate(-90)" x="0" y="0" font-size="41.50" font-family="'Liberation Serif', 'Times New Roman', serif" fill="#000" textLength="82.4" lengthAdjust="spacing">3420</text>
<text id="c_s3260" transform="translate(598.2,3878.5) rotate(-90)" x="0" y="0" font-size="41.50" font-family="'Liberation Serif', 'Times New Roman', serif" fill="#000" textLength="82.4" lengthAdjust="spacing">3260</text>
<text id="c_s3105" transform="translate(677.9,3953.8) rotate(-90)" x="0" y="0" font-size="41.50" font-family="'Liberation Serif', 'Times New Roman', serif" fill="#000" textLength="82.7" lengthAdjust="spacing">3105</text>
<text id="c_s1654" transform="translate(1359.7,3861.5) rotate(-90)" x="0" y="0" font-size="41.50" font-family="'Liberation Serif', 'Times New Roman', serif" fill="#000" textLength="80.0" lengthAdjust="spacing">1654</text>
<text id="c_s1623" transform="translate(1394.2,3819.5) rotate(-90)" x="0" y="0" font-size="41.50" font-family="'Liberation Serif', 'Times New Roman', serif" fill="#000" textLength="78.2" lengthAdjust="spacing">1623</text>
<text id="c_s1377" transform="translate(1507.2,3691.0) rotate(-90)" x="0" y="0" font-size="41.50" font-family="'Liberation Serif', 'Times New Roman', serif" fill="#000" textLength="79.8" lengthAdjust="spacing">1377</text>
<text id="c_s1067" transform="translate(1642.2,3604.0) rotate(-90)" x="0" y="0" font-size="41.50" font-family="'Liberation Serif', 'Times New Roman', serif" fill="#000" textLength="80.8" lengthAdjust="spacing">1067</text>
<text id="c_s1022" transform="translate(1679.0,3569.0) rotate(-90)" x="0" y="0" font-size="41.50" font-family="'Liberation Serif', 'Times New Roman', serif" fill="#000" textLength="81.8" lengthAdjust="spacing">1022</text>
<text id="c_s563" transform="translate(1907.2,3820.0) rotate(-90)" x="0" y="0" font-size="41.50" font-family="'Liberation Serif', 'Times New Roman', serif" fill="#000" textLength="59.5" lengthAdjust="spacing">563</text>
</svg>
</body></html>
